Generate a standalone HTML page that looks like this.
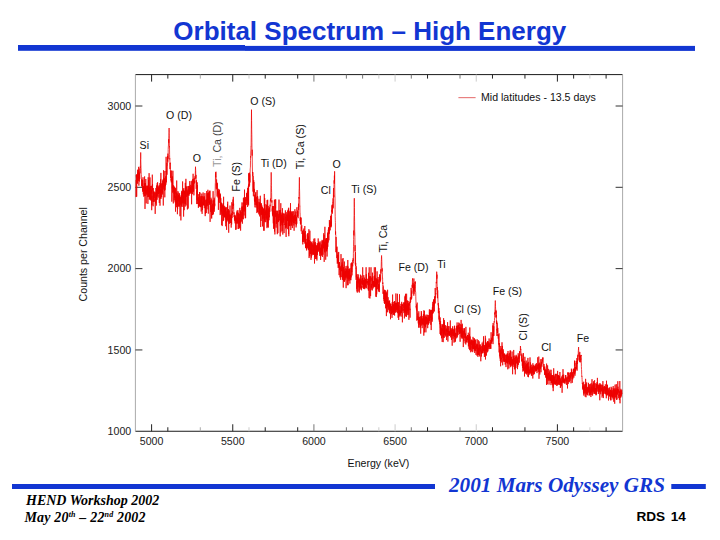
<!DOCTYPE html>
<html><head><meta charset="utf-8"><style>
html,body{margin:0;padding:0;background:#fff;}
body{width:720px;height:540px;overflow:hidden;position:relative;}
svg{position:absolute;left:0;top:0;}
</style></head><body>
<svg width="720" height="540" viewBox="0 0 720 540">
<rect width="720" height="540" fill="#fff"/>
<text x="369.8" y="39.5" text-anchor="middle" font-family="'Liberation Sans', sans-serif" font-weight="bold" font-size="26" fill="#1236D2">Orbital Spectrum – High Energy</text>
<rect x="18" y="45" width="227" height="5.8" fill="#1236D2"/><rect x="245" y="45.9" width="450" height="5" fill="#1236D2"/>
<rect x="12" y="484" width="423" height="5" fill="#1236D2"/>
<rect x="671.3" y="484" width="34.5" height="5" fill="#1236D2"/>
<text x="449" y="492" font-family="'Liberation Serif', serif" font-weight="bold" font-style="italic" font-size="21.2" fill="#1236D2">2001 Mars Odyssey GRS</text>
<g font-family="'Liberation Serif', serif" font-weight="bold" font-style="italic" font-size="14" fill="#000">
<text x="26" y="504.8">HEND Workshop 2002</text>
<text x="24.5" y="521.5" letter-spacing="0.17">May 20<tspan font-size="8" dy="-5">th</tspan><tspan dy="5"> – 22</tspan><tspan font-size="8" dy="-5">nd</tspan><tspan dy="5"> 2002</tspan></text>
</g>
<text x="685.8" y="521" text-anchor="end" font-family="'Liberation Sans', sans-serif" font-weight="bold" font-size="13.6" word-spacing="1.8" fill="#000">RDS 14</text>
<g id="chart">
<line x1="135.4" y1="74.6" x2="622.6" y2="74.6" stroke="#1a1a1a" stroke-width="1"/>
<line x1="135.4" y1="431.25" x2="622.6" y2="431.25" stroke="#1a1a1a" stroke-width="1"/>
<line x1="135.4" y1="74.6" x2="135.4" y2="431.25" stroke="#aaa" stroke-width="1"/>
<line x1="622.6" y1="74.6" x2="622.6" y2="431.25" stroke="#aaa" stroke-width="1"/>
<line x1="151.60" y1="431.25" x2="151.60" y2="424.25" stroke="#222" stroke-width="1"/><line x1="151.60" y1="74.6" x2="151.60" y2="81.6" stroke="#222" stroke-width="1"/><line x1="167.83" y1="431.25" x2="167.83" y2="427.25" stroke="#222" stroke-width="1"/><line x1="167.83" y1="74.6" x2="167.83" y2="78.6" stroke="#222" stroke-width="1"/><line x1="200.30" y1="431.25" x2="200.30" y2="427.25" stroke="#aaa" stroke-width="1"/><line x1="200.30" y1="74.6" x2="200.30" y2="78.6" stroke="#aaa" stroke-width="1"/><line x1="232.76" y1="431.25" x2="232.76" y2="424.25" stroke="#222" stroke-width="1"/><line x1="232.76" y1="74.6" x2="232.76" y2="81.6" stroke="#222" stroke-width="1"/><line x1="248.99" y1="431.25" x2="248.99" y2="427.25" stroke="#ccc" stroke-width="1"/><line x1="248.99" y1="74.6" x2="248.99" y2="78.6" stroke="#ccc" stroke-width="1"/><line x1="265.22" y1="431.25" x2="265.22" y2="427.25" stroke="#222" stroke-width="1"/><line x1="265.22" y1="74.6" x2="265.22" y2="78.6" stroke="#222" stroke-width="1"/><line x1="297.69" y1="431.25" x2="297.69" y2="427.25" stroke="#222" stroke-width="1"/><line x1="297.69" y1="74.6" x2="297.69" y2="78.6" stroke="#222" stroke-width="1"/><line x1="313.92" y1="431.25" x2="313.92" y2="424.25" stroke="#777" stroke-width="1"/><line x1="313.92" y1="74.6" x2="313.92" y2="81.6" stroke="#777" stroke-width="1"/><line x1="346.38" y1="431.25" x2="346.38" y2="427.25" stroke="#777" stroke-width="1"/><line x1="346.38" y1="74.6" x2="346.38" y2="78.6" stroke="#777" stroke-width="1"/><line x1="362.62" y1="431.25" x2="362.62" y2="427.25" stroke="#777" stroke-width="1"/><line x1="362.62" y1="74.6" x2="362.62" y2="78.6" stroke="#777" stroke-width="1"/><line x1="378.85" y1="431.25" x2="378.85" y2="427.25" stroke="#ccc" stroke-width="1"/><line x1="378.85" y1="74.6" x2="378.85" y2="78.6" stroke="#ccc" stroke-width="1"/><line x1="395.08" y1="431.25" x2="395.08" y2="424.25" stroke="#ccc" stroke-width="1"/><line x1="395.08" y1="74.6" x2="395.08" y2="81.6" stroke="#ccc" stroke-width="1"/><line x1="411.31" y1="431.25" x2="411.31" y2="427.25" stroke="#777" stroke-width="1"/><line x1="411.31" y1="74.6" x2="411.31" y2="78.6" stroke="#777" stroke-width="1"/><line x1="427.54" y1="431.25" x2="427.54" y2="427.25" stroke="#222" stroke-width="1"/><line x1="427.54" y1="74.6" x2="427.54" y2="78.6" stroke="#222" stroke-width="1"/><line x1="460.01" y1="431.25" x2="460.01" y2="427.25" stroke="#777" stroke-width="1"/><line x1="460.01" y1="74.6" x2="460.01" y2="78.6" stroke="#777" stroke-width="1"/><line x1="476.24" y1="431.25" x2="476.24" y2="424.25" stroke="#ccc" stroke-width="1"/><line x1="476.24" y1="74.6" x2="476.24" y2="81.6" stroke="#ccc" stroke-width="1"/><line x1="492.47" y1="431.25" x2="492.47" y2="427.25" stroke="#222" stroke-width="1"/><line x1="492.47" y1="74.6" x2="492.47" y2="78.6" stroke="#222" stroke-width="1"/><line x1="524.94" y1="431.25" x2="524.94" y2="427.25" stroke="#222" stroke-width="1"/><line x1="524.94" y1="74.6" x2="524.94" y2="78.6" stroke="#222" stroke-width="1"/><line x1="557.40" y1="431.25" x2="557.40" y2="424.25" stroke="#222" stroke-width="1"/><line x1="557.40" y1="74.6" x2="557.40" y2="81.6" stroke="#222" stroke-width="1"/><line x1="573.63" y1="431.25" x2="573.63" y2="427.25" stroke="#222" stroke-width="1"/><line x1="573.63" y1="74.6" x2="573.63" y2="78.6" stroke="#222" stroke-width="1"/><line x1="589.86" y1="431.25" x2="589.86" y2="427.25" stroke="#ccc" stroke-width="1"/><line x1="589.86" y1="74.6" x2="589.86" y2="78.6" stroke="#ccc" stroke-width="1"/><line x1="606.10" y1="431.25" x2="606.10" y2="427.25" stroke="#222" stroke-width="1"/><line x1="606.10" y1="74.6" x2="606.10" y2="78.6" stroke="#222" stroke-width="1"/><line x1="135.4" y1="349.94" x2="142.4" y2="349.94" stroke="#333" stroke-width="1"/><line x1="622.6" y1="349.94" x2="615.6" y2="349.94" stroke="#333" stroke-width="1"/><line x1="135.4" y1="268.62" x2="142.4" y2="268.62" stroke="#333" stroke-width="1"/><line x1="622.6" y1="268.62" x2="615.6" y2="268.62" stroke="#333" stroke-width="1"/><line x1="135.4" y1="187.31" x2="142.4" y2="187.31" stroke="#333" stroke-width="1"/><line x1="622.6" y1="187.31" x2="615.6" y2="187.31" stroke="#333" stroke-width="1"/><line x1="135.4" y1="106.00" x2="142.4" y2="106.00" stroke="#333" stroke-width="1"/><line x1="622.6" y1="106.00" x2="615.6" y2="106.00" stroke="#333" stroke-width="1"/>
<path d="M136.00,180.00 136.10,197.05 136.20,186.69 136.30,174.92 136.40,177.40 136.50,174.36 136.60,180.32 136.70,196.61 136.80,177.20 136.90,176.49 137.00,182.70 137.10,181.94 137.20,180.53 137.30,174.79 137.40,179.76 137.50,183.72 137.60,172.57 137.70,176.47 137.80,169.62 137.90,172.93 138.00,170.02 138.10,178.49 138.20,173.08 138.30,181.01 138.40,180.33 138.50,178.50 138.60,166.85 138.70,176.56 138.80,178.80 138.90,185.65 139.00,171.54 139.10,176.17 139.20,173.69 139.30,174.14 139.40,181.52 139.50,173.32 139.60,176.03 139.70,178.87 139.80,172.91 139.90,168.41 140.00,173.27 140.10,171.70 140.20,166.65 140.30,167.79 140.40,167.62 140.50,159.22 140.60,158.87 140.70,152.84 140.70,152.44 140.80,160.91 140.90,164.16 141.00,167.72 141.10,170.18 141.20,174.23 141.30,174.59 141.40,179.20 141.50,178.92 141.60,182.45 141.70,186.48 141.80,179.64 141.90,183.81 142.00,186.23 142.10,184.82 142.20,179.64 142.30,182.67 142.40,184.74 142.50,190.16 142.60,191.71 142.70,180.19 142.80,182.93 142.90,190.24 143.00,177.25 143.10,185.09 143.20,187.12 143.30,194.29 143.40,191.54 143.50,186.38 143.60,186.29 143.70,187.05 143.80,196.68 143.90,186.35 144.00,187.14 144.10,190.82 144.20,188.37 144.30,188.08 144.40,183.16 144.50,189.33 144.60,176.43 144.70,196.09 144.80,193.38 144.90,189.74 145.00,208.93 145.10,188.15 145.20,195.99 145.30,190.14 145.40,193.51 145.50,183.05 145.60,192.30 145.70,180.92 145.80,179.01 145.90,183.38 146.00,191.07 146.10,191.58 146.20,203.40 146.30,186.08 146.40,187.31 146.50,192.06 146.60,193.75 146.70,190.02 146.80,189.91 146.90,195.12 147.00,194.15 147.10,185.40 147.20,190.87 147.30,191.58 147.40,186.28 147.50,192.97 147.60,186.69 147.70,197.14 147.80,192.77 147.90,203.93 148.00,188.45 148.10,191.19 148.20,177.31 148.30,185.56 148.40,194.10 148.50,180.02 148.60,196.96 148.70,182.31 148.80,186.28 148.90,187.54 149.00,196.82 149.10,173.17 149.20,183.80 149.30,199.67 149.40,198.41 149.50,192.33 149.60,191.21 149.70,191.91 149.80,187.35 149.90,199.17 150.00,177.43 150.10,192.75 150.20,188.58 150.30,189.57 150.40,185.92 150.50,200.33 150.60,192.37 150.70,198.76 150.80,193.40 150.90,189.42 151.00,191.55 151.10,190.27 151.20,193.53 151.30,191.39 151.40,191.86 151.50,185.79 151.60,189.07 151.70,210.20 151.80,189.92 151.90,205.23 152.00,195.71 152.10,201.81 152.20,185.65 152.30,174.67 152.40,190.38 152.50,184.03 152.60,184.64 152.70,193.95 152.80,194.52 152.90,194.48 153.00,196.77 153.10,206.27 153.20,193.47 153.30,188.05 153.40,192.02 153.50,201.95 153.60,191.57 153.70,196.13 153.80,194.33 153.90,192.07 154.00,191.73 154.10,198.20 154.20,192.97 154.30,198.61 154.40,201.69 154.50,201.45 154.60,198.69 154.70,197.04 154.80,191.74 154.90,194.74 155.00,200.36 155.10,200.46 155.20,213.90 155.30,206.07 155.40,199.42 155.50,199.70 155.60,200.21 155.70,192.43 155.80,203.56 155.90,187.96 156.00,199.87 156.10,197.79 156.20,199.94 156.30,205.62 156.40,203.39 156.50,188.53 156.60,185.46 156.70,199.62 156.80,189.27 156.90,194.93 157.00,199.74 157.10,185.71 157.20,183.08 157.30,196.46 157.40,195.25 157.50,193.61 157.60,182.23 157.70,190.14 157.80,186.45 157.90,194.06 158.00,189.51 158.10,185.59 158.20,197.61 158.30,194.28 158.40,192.51 158.50,188.78 158.60,193.98 158.70,188.47 158.80,188.98 158.90,186.83 159.00,189.32 159.10,195.64 159.20,195.42 159.30,202.96 159.40,185.36 159.50,193.25 159.60,192.49 159.70,192.80 159.80,184.52 159.90,183.10 160.00,205.70 160.10,188.54 160.20,192.71 160.30,190.47 160.40,198.56 160.50,191.75 160.60,179.25 160.70,187.69 160.80,180.31 160.90,172.89 161.00,188.24 161.10,198.71 161.20,191.27 161.30,184.20 161.40,185.40 161.50,197.06 161.60,191.40 161.70,190.65 161.80,189.95 161.90,190.34 162.00,183.17 162.10,192.85 162.20,183.52 162.30,183.16 162.40,191.71 162.50,184.60 162.60,194.44 162.70,180.65 162.80,186.81 162.90,187.26 163.00,179.44 163.10,196.53 163.20,196.25 163.30,205.52 163.40,190.21 163.50,187.66 163.60,170.27 163.70,186.33 163.80,184.25 163.90,188.81 164.00,177.85 164.10,182.16 164.20,182.38 164.30,189.86 164.40,184.70 164.50,182.46 164.60,190.87 164.70,178.74 164.80,197.34 164.90,171.01 165.00,189.84 165.10,185.92 165.20,185.13 165.30,183.23 165.40,186.21 165.50,179.66 165.60,176.54 165.70,176.31 165.80,177.23 165.90,184.74 166.00,178.94 166.10,156.81 166.20,171.70 166.30,170.89 166.40,182.37 166.50,180.98 166.60,173.04 166.70,170.31 166.80,165.81 166.90,162.82 167.00,174.75 167.10,167.05 167.20,166.54 167.30,165.20 167.40,165.36 167.50,155.96 167.60,160.77 167.70,156.47 167.80,162.38 167.90,153.62 168.00,157.25 168.10,158.76 168.20,149.62 168.30,146.33 168.40,146.41 168.50,142.92 168.60,139.24 168.70,141.60 168.80,142.76 168.90,135.71 169.00,132.72 169.10,128.05 169.10,129.29 169.20,133.34 169.30,138.27 169.40,147.22 169.50,146.38 169.60,154.77 169.70,159.34 169.80,158.41 169.90,161.86 170.00,169.12 170.10,163.59 170.20,164.02 170.30,162.71 170.40,170.15 170.50,178.05 170.60,177.50 170.70,170.48 170.80,172.27 170.90,175.28 171.00,180.46 171.10,178.71 171.20,181.40 171.30,182.44 171.40,180.03 171.50,181.91 171.60,170.64 171.70,172.48 171.80,201.65 171.90,194.22 172.00,188.00 172.10,185.67 172.20,176.82 172.30,188.51 172.40,176.36 172.50,179.76 172.60,192.62 172.70,192.33 172.80,188.14 172.90,170.74 173.00,187.93 173.10,186.53 173.20,194.11 173.30,203.42 173.40,192.39 173.50,187.15 173.60,185.27 173.70,191.78 173.80,191.41 173.90,186.26 174.00,193.65 174.10,186.86 174.20,199.82 174.30,199.85 174.40,200.27 174.50,191.84 174.60,197.68 174.70,194.36 174.80,187.29 174.90,193.80 175.00,188.72 175.10,202.32 175.20,201.05 175.30,195.83 175.40,198.41 175.50,211.65 175.60,188.10 175.70,193.71 175.80,199.38 175.90,200.89 176.00,196.89 176.10,204.83 176.20,200.33 176.30,192.44 176.40,194.10 176.50,203.88 176.60,202.04 176.70,180.52 176.80,207.13 176.90,203.02 177.00,207.26 177.10,197.68 177.20,198.05 177.30,193.68 177.40,214.23 177.50,199.14 177.60,209.07 177.70,196.66 177.80,201.27 177.90,191.09 178.00,193.61 178.10,206.07 178.20,192.51 178.30,206.71 178.40,202.68 178.50,195.05 178.60,198.15 178.70,198.46 178.80,200.82 178.90,198.18 179.00,196.64 179.10,199.63 179.20,195.67 179.30,194.29 179.40,201.28 179.50,206.55 179.60,193.18 179.70,201.79 179.80,198.23 179.90,196.48 180.00,216.22 180.10,199.05 180.20,204.80 180.30,197.47 180.40,203.91 180.50,200.43 180.60,197.44 180.70,202.30 180.80,200.66 180.90,220.42 181.00,201.14 181.10,195.28 181.20,200.71 181.30,201.51 181.40,206.51 181.50,196.04 181.60,200.82 181.70,191.37 181.80,204.56 181.90,194.82 182.00,190.71 182.10,200.41 182.20,206.86 182.30,192.10 182.40,194.48 182.50,196.35 182.60,181.44 182.70,202.50 182.80,195.81 182.90,196.23 183.00,203.46 183.10,195.92 183.20,202.50 183.30,194.59 183.40,190.02 183.50,189.63 183.60,216.58 183.70,197.99 183.80,188.08 183.90,199.49 184.00,200.50 184.10,199.82 184.20,210.16 184.30,193.60 184.40,190.64 184.50,193.63 184.60,191.76 184.70,203.36 184.80,203.72 184.90,193.67 185.00,191.21 185.10,196.89 185.20,206.56 185.30,182.83 185.40,201.47 185.50,192.36 185.60,204.12 185.70,186.02 185.80,196.44 185.90,178.83 186.00,192.31 186.10,205.47 186.20,202.17 186.30,195.18 186.40,192.43 186.50,186.55 186.60,194.87 186.70,196.79 186.80,196.37 186.90,196.19 187.00,190.29 187.10,196.11 187.20,196.14 187.30,203.51 187.40,209.43 187.50,195.23 187.60,191.56 187.70,195.39 187.80,186.18 187.90,191.34 188.00,195.07 188.10,189.40 188.20,208.55 188.30,207.08 188.40,196.33 188.50,193.77 188.60,192.14 188.70,185.94 188.80,193.10 188.90,195.21 189.00,195.52 189.10,195.74 189.20,186.28 189.30,194.22 189.40,186.15 189.50,190.13 189.60,191.82 189.70,181.68 189.80,180.98 189.90,193.97 190.00,192.11 190.10,190.41 190.20,190.50 190.30,186.91 190.40,190.68 190.50,188.90 190.60,192.31 190.70,184.85 190.80,192.71 190.90,192.00 191.00,190.21 191.10,188.35 191.20,193.67 191.30,181.14 191.40,192.74 191.50,191.33 191.60,204.28 191.70,191.69 191.80,185.79 191.90,187.76 192.00,192.45 192.10,191.11 192.20,189.68 192.30,180.20 192.40,191.03 192.50,194.16 192.60,193.07 192.70,188.73 192.80,179.15 192.90,191.94 193.00,186.07 193.10,173.77 193.20,188.33 193.30,178.82 193.40,179.66 193.50,182.71 193.60,191.58 193.70,183.54 193.80,186.23 193.90,195.34 194.00,191.30 194.10,183.55 194.20,182.58 194.30,178.12 194.40,179.95 194.50,183.55 194.60,182.69 194.70,180.90 194.80,182.66 194.90,176.42 195.00,177.21 195.10,177.56 195.20,178.81 195.30,173.93 195.40,170.32 195.50,166.73 195.50,167.31 195.60,169.20 195.70,170.83 195.80,177.26 195.90,178.34 196.00,174.87 196.10,177.71 196.20,188.88 196.30,183.73 196.40,184.13 196.50,180.30 196.60,188.38 196.70,204.06 196.80,193.43 196.90,190.44 197.00,199.97 197.10,197.64 197.20,182.30 197.30,194.42 197.40,185.06 197.50,198.81 197.60,204.02 197.70,201.63 197.80,197.90 197.90,198.10 198.00,200.79 198.10,194.32 198.20,197.08 198.30,202.18 198.40,207.88 198.50,197.10 198.60,197.89 198.70,199.40 198.80,205.69 198.90,198.61 199.00,206.83 199.10,193.99 199.20,198.38 199.30,199.89 199.40,204.04 199.50,205.99 199.60,191.99 199.70,195.41 199.80,202.43 199.90,197.20 200.00,192.67 200.10,206.71 200.20,203.75 200.30,203.77 200.40,201.87 200.50,206.76 200.60,199.80 200.70,207.19 200.80,196.12 200.90,196.46 201.00,200.72 201.10,197.33 201.20,211.51 201.30,202.70 201.40,196.16 201.50,201.70 201.60,199.37 201.70,206.42 201.80,193.64 201.90,202.51 202.00,208.13 202.10,213.86 202.20,205.82 202.30,201.81 202.40,202.70 202.50,210.03 202.60,200.83 202.70,196.11 202.80,202.21 202.90,204.09 203.00,196.99 203.10,192.46 203.20,193.64 203.30,205.36 203.40,197.46 203.50,200.91 203.60,202.90 203.70,205.19 203.80,199.90 203.90,204.56 204.00,196.84 204.10,201.91 204.20,196.14 204.30,208.16 204.40,201.73 204.50,197.78 204.60,199.96 204.70,200.71 204.80,205.86 204.90,193.09 205.00,196.22 205.10,199.91 205.20,216.14 205.30,207.38 205.40,213.63 205.50,206.06 205.60,213.58 205.70,200.84 205.80,200.12 205.90,208.93 206.00,204.95 206.10,205.96 206.20,199.41 206.30,212.97 206.40,211.79 206.50,205.45 206.60,206.13 206.70,191.06 206.80,205.91 206.90,201.30 207.00,204.81 207.10,206.22 207.20,200.54 207.30,193.06 207.40,204.53 207.50,193.86 207.60,200.68 207.70,199.18 207.80,200.66 207.90,189.75 208.00,209.36 208.10,204.03 208.20,208.81 208.30,213.65 208.40,211.25 208.50,192.70 208.60,197.76 208.70,196.05 208.80,199.98 208.90,203.22 209.00,191.71 209.10,204.72 209.20,194.48 209.30,204.51 209.40,202.27 209.50,201.17 209.60,202.52 209.70,191.05 209.80,199.58 209.90,190.53 210.00,201.18 210.10,221.88 210.20,214.22 210.30,210.76 210.40,207.54 210.50,200.13 210.60,211.89 210.70,203.86 210.80,203.95 210.90,202.91 211.00,197.72 211.10,202.47 211.20,204.54 211.30,199.31 211.40,203.31 211.50,217.71 211.60,205.28 211.70,218.57 211.80,208.80 211.90,209.88 212.00,200.43 212.10,205.37 212.20,211.40 212.30,208.17 212.40,207.55 212.50,215.04 212.60,203.77 212.70,207.78 212.80,204.89 212.90,215.04 213.00,198.16 213.10,191.16 213.20,205.11 213.30,210.74 213.40,210.35 213.50,213.85 213.60,200.14 213.70,209.85 213.80,205.70 213.90,203.93 214.00,208.77 214.10,202.51 214.20,197.74 214.30,211.69 214.40,199.51 214.50,202.10 214.60,204.84 214.70,203.71 214.80,206.29 214.90,199.91 215.00,195.23 215.10,193.19 215.20,188.63 215.30,183.55 215.40,182.50 215.50,173.45 215.50,172.33 215.60,176.30 215.70,176.08 215.80,177.25 215.90,172.48 216.00,171.72 216.10,178.05 216.20,189.31 216.30,182.62 216.40,183.97 216.50,185.33 216.60,179.45 216.70,185.31 216.80,185.83 216.90,188.61 217.00,182.66 217.10,196.50 217.20,190.45 217.30,185.06 217.40,183.27 217.50,190.57 217.60,192.07 217.70,189.57 217.80,194.11 217.90,191.00 218.00,197.55 218.10,191.51 218.20,195.44 218.30,188.84 218.40,209.87 218.50,191.63 218.60,194.88 218.70,193.29 218.80,202.31 218.90,192.44 219.00,196.37 219.10,199.21 219.20,194.51 219.30,195.02 219.40,198.01 219.50,189.62 219.60,193.55 219.70,199.55 219.80,203.00 219.90,201.58 220.00,193.33 220.10,200.66 220.20,215.09 220.30,206.63 220.40,203.37 220.50,194.32 220.60,207.66 220.70,201.22 220.80,198.19 220.90,200.40 221.00,213.77 221.10,206.41 221.20,211.76 221.30,202.97 221.40,210.95 221.50,202.70 221.60,205.33 221.70,225.08 221.80,210.81 221.90,204.05 222.00,206.53 222.10,208.99 222.20,226.07 222.30,204.91 222.40,208.49 222.50,206.47 222.60,208.28 222.70,209.00 222.80,215.82 222.90,210.54 223.00,213.46 223.10,203.17 223.20,214.15 223.30,221.08 223.40,214.03 223.50,211.39 223.60,196.75 223.70,220.18 223.80,205.53 223.90,210.19 224.00,213.51 224.10,215.26 224.20,209.01 224.30,213.28 224.40,210.28 224.50,217.11 224.60,211.48 224.70,206.18 224.80,212.49 224.90,217.57 225.00,207.74 225.10,211.79 225.20,216.81 225.30,207.48 225.40,214.39 225.50,207.74 225.60,219.76 225.70,226.26 225.80,224.77 225.90,212.71 226.00,219.52 226.10,214.76 226.20,214.57 226.30,222.68 226.40,207.26 226.50,220.21 226.60,229.86 226.70,222.32 226.80,215.81 226.90,211.27 227.00,216.50 227.10,219.07 227.20,215.39 227.30,217.93 227.40,212.59 227.50,204.02 227.60,220.44 227.70,201.70 227.80,216.59 227.90,216.27 228.00,221.55 228.10,217.99 228.20,214.68 228.30,215.29 228.40,215.54 228.50,209.12 228.60,222.93 228.70,232.70 228.80,210.97 228.90,223.55 229.00,216.48 229.10,210.25 229.20,215.31 229.30,222.16 229.40,223.60 229.50,215.26 229.60,219.68 229.70,221.36 229.80,214.45 229.90,219.68 230.00,205.58 230.10,215.19 230.20,215.38 230.30,218.15 230.40,219.02 230.50,214.92 230.60,215.57 230.70,223.01 230.80,218.56 230.90,221.68 231.00,223.04 231.10,221.55 231.20,227.61 231.30,213.32 231.40,220.52 231.50,215.38 231.60,224.53 231.70,223.49 231.80,202.26 231.90,212.00 232.00,218.06 232.10,218.04 232.20,217.27 232.30,213.85 232.40,214.90 232.50,214.63 232.60,211.49 232.70,213.28 232.80,203.90 232.90,209.01 233.00,199.57 233.10,205.11 233.20,200.83 233.30,197.28 233.30,196.85 233.40,202.34 233.50,205.92 233.60,203.66 233.70,208.46 233.80,211.37 233.90,214.29 234.00,212.42 234.10,217.03 234.20,214.79 234.30,215.16 234.40,218.16 234.50,220.60 234.60,215.87 234.70,216.64 234.80,217.33 234.90,218.66 235.00,214.78 235.10,223.36 235.20,217.36 235.30,221.45 235.40,215.80 235.50,221.43 235.60,221.79 235.70,218.13 235.80,229.98 235.90,222.25 236.00,229.27 236.10,225.47 236.20,217.62 236.30,219.14 236.40,223.36 236.50,221.63 236.60,221.70 236.70,220.13 236.80,212.50 236.90,220.69 237.00,210.59 237.10,223.77 237.20,217.98 237.30,217.90 237.40,220.35 237.50,222.79 237.60,213.76 237.70,211.96 237.80,215.40 237.90,210.14 238.00,215.66 238.10,229.01 238.20,214.92 238.30,223.82 238.40,212.98 238.50,221.71 238.60,218.30 238.70,219.56 238.80,222.78 238.90,228.98 239.00,220.54 239.10,227.33 239.20,214.05 239.30,222.24 239.40,217.68 239.50,223.33 239.60,218.52 239.70,227.95 239.80,207.87 239.90,216.78 240.00,222.98 240.10,216.24 240.20,213.74 240.30,216.45 240.40,210.33 240.50,218.27 240.60,230.64 240.70,223.54 240.80,211.28 240.90,212.42 241.00,214.82 241.10,222.17 241.20,212.07 241.30,212.52 241.40,220.78 241.50,220.43 241.60,213.48 241.70,209.20 241.80,206.60 241.90,210.96 242.00,202.40 242.10,218.32 242.20,210.58 242.30,216.37 242.40,223.66 242.50,219.63 242.60,206.74 242.70,217.48 242.80,218.81 242.90,211.72 243.00,206.80 243.10,211.15 243.20,202.76 243.30,219.28 243.40,197.86 243.50,204.70 243.60,209.03 243.70,209.01 243.80,210.91 243.90,211.24 244.00,208.33 244.10,215.48 244.20,197.28 244.30,208.75 244.40,204.58 244.50,189.60 244.60,209.21 244.70,202.74 244.80,203.98 244.90,211.60 245.00,208.92 245.10,202.79 245.20,217.28 245.30,218.31 245.40,197.08 245.50,206.33 245.60,218.03 245.70,208.05 245.80,204.48 245.90,201.65 246.00,199.34 246.10,200.69 246.20,198.36 246.30,205.04 246.40,198.26 246.50,197.56 246.60,192.89 246.70,198.78 246.80,193.66 246.90,200.43 247.00,203.39 247.10,199.20 247.20,199.49 247.30,198.20 247.40,191.28 247.50,194.60 247.60,206.98 247.70,198.49 247.80,187.97 247.90,200.67 248.00,193.09 248.10,187.95 248.20,203.97 248.30,186.51 248.40,190.07 248.50,184.46 248.60,205.35 248.70,182.26 248.80,173.51 248.90,180.64 249.00,173.08 249.10,182.23 249.20,186.78 249.30,183.60 249.40,172.63 249.50,182.21 249.60,185.52 249.70,177.24 249.80,174.46 249.90,177.87 250.00,182.50 250.10,175.73 250.20,169.09 250.30,168.17 250.40,167.17 250.50,160.27 250.60,156.32 250.70,157.43 250.80,151.08 250.90,150.16 251.00,146.30 251.10,146.54 251.20,137.20 251.30,128.25 251.40,120.23 251.50,109.66 251.50,111.94 251.60,120.67 251.70,129.35 251.80,134.56 251.90,142.39 252.00,151.78 252.10,155.66 252.20,149.73 252.30,162.96 252.40,167.99 252.50,173.08 252.60,172.02 252.70,176.14 252.80,172.31 252.90,177.39 253.00,191.61 253.10,176.05 253.20,185.30 253.30,188.84 253.40,196.29 253.50,185.77 253.60,190.16 253.70,180.13 253.80,191.60 253.90,181.94 254.00,192.70 254.10,189.78 254.20,192.00 254.30,188.87 254.40,199.47 254.50,201.47 254.60,194.80 254.70,202.93 254.80,204.89 254.90,205.34 255.00,207.33 255.10,199.33 255.20,199.36 255.30,204.93 255.40,193.30 255.50,202.00 255.60,198.17 255.70,199.23 255.80,191.94 255.90,196.75 256.00,201.67 256.10,206.83 256.20,207.57 256.30,201.89 256.40,197.13 256.50,204.08 256.60,205.09 256.70,201.70 256.80,206.57 256.90,213.05 257.00,203.42 257.10,190.10 257.20,199.22 257.30,196.11 257.40,197.72 257.50,211.69 257.60,205.93 257.70,196.48 257.80,208.64 257.90,212.17 258.00,206.73 258.10,201.85 258.20,203.90 258.30,207.51 258.40,209.65 258.50,212.81 258.60,213.16 258.70,213.19 258.80,214.34 258.90,210.66 259.00,198.78 259.10,206.66 259.20,209.29 259.30,205.63 259.40,212.93 259.50,206.12 259.60,203.19 259.70,216.39 259.80,201.99 259.90,210.02 260.00,214.08 260.10,214.91 260.20,211.03 260.30,195.76 260.40,205.61 260.50,206.90 260.60,204.08 260.70,227.01 260.80,216.17 260.90,207.06 261.00,203.58 261.10,220.99 261.20,207.49 261.30,203.29 261.40,211.42 261.50,212.53 261.60,206.42 261.70,214.69 261.80,207.77 261.90,205.47 262.00,211.58 262.10,214.90 262.20,207.29 262.30,212.65 262.40,210.41 262.50,226.43 262.60,207.21 262.70,218.72 262.80,210.95 262.90,210.63 263.00,215.34 263.10,216.36 263.20,218.47 263.30,213.43 263.40,208.45 263.50,208.87 263.60,214.66 263.70,208.85 263.80,230.56 263.90,214.40 264.00,230.71 264.10,220.53 264.20,213.26 264.30,193.96 264.40,206.11 264.50,204.79 264.60,221.32 264.70,198.08 264.80,219.52 264.90,214.66 265.00,222.29 265.10,218.47 265.20,212.53 265.30,212.04 265.40,213.62 265.50,214.15 265.60,210.37 265.70,213.10 265.80,221.99 265.90,204.19 266.00,214.79 266.10,208.56 266.20,214.48 266.30,218.02 266.40,213.24 266.50,217.72 266.60,205.14 266.70,219.57 266.80,210.50 266.90,217.05 267.00,228.12 267.10,200.15 267.20,205.49 267.30,215.04 267.40,226.88 267.50,215.45 267.60,215.32 267.70,199.79 267.80,221.42 267.90,223.34 268.00,214.22 268.10,212.97 268.20,205.92 268.30,218.53 268.40,227.56 268.50,217.63 268.60,220.25 268.70,216.65 268.80,209.24 268.90,220.25 269.00,208.02 269.10,212.72 269.20,214.81 269.30,217.31 269.40,214.95 269.50,214.50 269.60,209.28 269.70,206.76 269.80,211.78 269.90,208.15 270.00,205.25 270.10,204.69 270.20,206.45 270.30,200.78 270.40,201.06 270.50,198.58 270.60,201.37 270.70,199.03 270.80,198.91 270.90,187.82 271.00,184.60 271.10,182.32 271.20,172.42 271.20,172.33 271.30,181.86 271.40,185.39 271.50,188.85 271.60,192.41 271.70,199.53 271.80,202.49 271.90,200.27 272.00,203.24 272.10,209.72 272.20,211.42 272.30,208.39 272.40,214.04 272.50,214.80 272.60,206.26 272.70,212.70 272.80,216.25 272.90,212.51 273.00,206.00 273.10,214.39 273.20,219.30 273.30,223.37 273.40,206.05 273.50,228.76 273.60,211.15 273.70,221.26 273.80,222.75 273.90,221.64 274.00,217.62 274.10,211.14 274.20,220.13 274.30,213.42 274.40,199.81 274.50,231.54 274.60,220.77 274.70,226.53 274.80,212.48 274.90,234.41 275.00,225.51 275.10,199.52 275.20,217.17 275.30,211.00 275.40,216.39 275.50,205.74 275.60,208.37 275.70,199.40 275.80,212.14 275.90,216.53 276.00,216.84 276.10,227.70 276.20,224.36 276.30,217.23 276.40,223.93 276.50,213.33 276.60,215.71 276.70,222.39 276.80,210.90 276.90,216.06 277.00,210.50 277.10,218.21 277.20,226.35 277.30,234.20 277.40,218.84 277.50,212.83 277.60,211.48 277.70,211.03 277.80,225.50 277.90,233.07 278.00,220.31 278.10,213.88 278.20,221.53 278.30,215.96 278.40,222.08 278.50,219.35 278.60,219.30 278.70,221.08 278.80,214.71 278.90,215.67 279.00,199.59 279.10,215.49 279.20,210.23 279.30,217.12 279.40,212.76 279.50,218.47 279.60,220.38 279.70,210.31 279.80,213.59 279.90,212.91 280.00,222.02 280.10,227.21 280.20,236.35 280.30,216.18 280.40,225.97 280.50,209.95 280.60,226.19 280.70,214.61 280.80,203.19 280.90,232.45 281.00,226.70 281.10,212.66 281.20,219.15 281.30,217.11 281.40,218.83 281.50,222.60 281.60,214.65 281.70,220.86 281.80,219.56 281.90,224.84 282.00,218.83 282.10,231.06 282.20,214.59 282.30,219.86 282.40,208.17 282.50,211.76 282.60,225.67 282.70,213.47 282.80,234.55 282.90,218.25 283.00,212.98 283.10,212.91 283.20,215.87 283.30,216.04 283.40,222.73 283.50,222.21 283.60,215.61 283.70,213.86 283.80,220.28 283.90,218.24 284.00,231.92 284.10,233.10 284.20,223.37 284.30,225.00 284.40,217.95 284.50,214.29 284.60,214.04 284.70,213.54 284.80,216.83 284.90,216.68 285.00,223.00 285.10,216.83 285.20,217.88 285.30,212.36 285.40,210.37 285.50,221.58 285.60,228.45 285.70,223.09 285.80,226.78 285.90,217.41 286.00,222.57 286.10,236.98 286.20,212.07 286.30,224.96 286.40,227.74 286.50,220.84 286.60,222.66 286.70,225.40 286.80,214.88 286.90,220.70 287.00,213.65 287.10,214.68 287.20,214.97 287.30,217.56 287.40,219.12 287.50,220.78 287.60,210.44 287.70,229.14 287.80,224.57 287.90,222.18 288.00,216.17 288.10,217.62 288.20,219.86 288.30,220.33 288.40,208.76 288.50,222.09 288.60,234.07 288.70,207.74 288.80,236.23 288.90,219.93 289.00,217.24 289.10,225.41 289.20,211.26 289.30,218.67 289.40,225.84 289.50,216.63 289.60,215.37 289.70,218.29 289.80,215.17 289.90,226.17 290.00,212.55 290.10,222.38 290.20,210.58 290.30,221.19 290.40,216.88 290.50,203.11 290.60,217.37 290.70,211.46 290.80,230.00 290.90,225.84 291.00,211.09 291.10,211.38 291.20,225.21 291.30,217.84 291.40,225.72 291.50,218.94 291.60,212.22 291.70,216.72 291.80,223.87 291.90,215.96 292.00,217.00 292.10,217.37 292.20,216.58 292.30,214.10 292.40,228.09 292.50,211.69 292.60,211.35 292.70,215.06 292.80,221.81 292.90,221.44 293.00,217.24 293.10,217.27 293.20,218.33 293.30,217.00 293.40,211.24 293.50,222.89 293.60,215.97 293.70,220.76 293.80,225.48 293.90,222.46 294.00,219.11 294.10,230.74 294.20,219.15 294.30,217.36 294.40,223.39 294.50,221.71 294.60,214.94 294.70,220.09 294.80,218.90 294.90,209.26 295.00,219.06 295.10,218.56 295.20,217.83 295.30,211.46 295.40,218.48 295.50,220.26 295.60,221.10 295.70,214.64 295.80,224.08 295.90,214.45 296.00,219.75 296.10,227.43 296.20,216.76 296.30,217.43 296.40,225.27 296.50,217.51 296.60,217.66 296.70,219.96 296.80,223.76 296.90,207.29 297.00,213.78 297.10,212.59 297.20,211.90 297.30,212.64 297.40,212.34 297.50,216.74 297.60,211.26 297.70,215.23 297.80,215.80 297.90,210.32 298.00,213.14 298.10,218.20 298.20,211.96 298.30,207.25 298.40,208.04 298.50,203.69 298.60,210.06 298.70,205.40 298.80,198.22 298.90,197.04 299.00,198.71 299.10,190.46 299.20,188.18 299.30,182.25 299.40,177.32 299.40,177.58 299.50,188.04 299.60,191.27 299.70,196.44 299.80,206.23 299.90,205.90 300.00,213.21 300.10,213.11 300.20,221.06 300.30,217.59 300.40,223.51 300.50,221.19 300.60,223.80 300.70,217.39 300.80,223.45 300.90,224.67 301.00,224.88 301.10,217.73 301.20,231.28 301.30,226.59 301.40,227.04 301.50,228.50 301.60,229.25 301.70,225.13 301.80,225.62 301.90,227.74 302.00,234.02 302.10,233.90 302.20,231.96 302.30,231.54 302.40,230.80 302.50,235.08 302.60,241.64 302.70,231.23 302.80,244.40 302.90,241.59 303.00,235.71 303.10,241.98 303.20,230.96 303.30,229.77 303.40,232.10 303.50,236.64 303.60,237.21 303.70,236.40 303.80,239.63 303.90,228.51 304.00,241.92 304.10,232.39 304.20,236.37 304.30,237.76 304.40,234.14 304.50,233.19 304.60,235.18 304.70,240.37 304.80,226.00 304.90,243.58 305.00,235.80 305.10,236.97 305.20,236.46 305.30,243.57 305.40,231.06 305.50,247.87 305.60,239.25 305.70,247.01 305.80,243.73 305.90,247.40 306.00,244.03 306.10,247.79 306.20,243.26 306.30,248.97 306.40,249.19 306.50,242.49 306.60,250.46 306.70,244.12 306.80,243.87 306.90,238.89 307.00,242.25 307.10,245.06 307.20,234.43 307.30,247.44 307.40,246.06 307.50,245.84 307.60,233.37 307.70,244.19 307.80,248.15 307.90,241.13 308.00,245.60 308.10,233.23 308.20,248.83 308.30,242.22 308.40,250.13 308.50,236.53 308.60,249.50 308.70,244.94 308.80,248.08 308.90,229.23 309.00,243.44 309.10,258.05 309.20,242.66 309.30,240.10 309.40,245.75 309.50,242.12 309.60,253.44 309.70,256.27 309.80,244.16 309.90,230.71 310.00,253.91 310.10,253.63 310.20,252.22 310.30,253.95 310.40,243.79 310.50,247.35 310.60,241.27 310.70,241.14 310.80,253.26 310.90,244.98 311.00,259.88 311.10,248.81 311.20,241.80 311.30,252.54 311.40,257.63 311.50,242.52 311.60,242.51 311.70,250.55 311.80,255.64 311.90,246.28 312.00,244.91 312.10,253.95 312.20,249.58 312.30,243.37 312.40,247.05 312.50,245.20 312.60,250.53 312.70,249.63 312.80,254.90 312.90,252.73 313.00,241.34 313.10,251.29 313.20,253.79 313.30,251.61 313.40,254.54 313.50,246.64 313.60,244.66 313.70,254.15 313.80,244.17 313.90,238.71 314.00,254.75 314.10,246.00 314.20,248.14 314.30,242.70 314.40,243.11 314.50,263.54 314.60,248.03 314.70,257.01 314.80,238.39 314.90,253.73 315.00,244.07 315.10,244.61 315.20,253.32 315.30,249.51 315.40,242.13 315.50,259.06 315.60,245.44 315.70,250.96 315.80,250.68 315.90,256.73 316.00,247.31 316.10,254.62 316.20,245.79 316.30,255.12 316.40,245.61 316.50,247.58 316.60,258.89 316.70,250.91 316.80,249.83 316.90,260.51 317.00,251.02 317.10,245.06 317.20,252.81 317.30,243.14 317.40,254.71 317.50,255.07 317.60,246.08 317.70,245.76 317.80,249.77 317.90,248.91 318.00,243.88 318.10,251.62 318.20,238.44 318.30,246.50 318.40,246.61 318.50,245.71 318.60,250.11 318.70,242.34 318.80,251.44 318.90,247.53 319.00,245.13 319.10,241.48 319.20,242.36 319.30,250.10 319.40,243.38 319.50,248.52 319.60,253.51 319.70,253.32 319.80,255.94 319.90,246.55 320.00,242.53 320.10,253.07 320.20,251.76 320.30,253.43 320.40,247.74 320.50,253.63 320.60,260.00 320.70,251.06 320.80,249.90 320.90,249.29 321.00,241.24 321.10,248.26 321.20,252.04 321.30,244.37 321.40,255.65 321.50,246.26 321.60,251.70 321.70,246.18 321.80,245.31 321.90,255.06 322.00,244.83 322.10,239.86 322.20,242.63 322.30,244.55 322.40,256.99 322.50,247.05 322.60,250.65 322.70,240.77 322.80,247.55 322.90,249.08 323.00,254.73 323.10,241.99 323.20,248.50 323.30,246.89 323.40,240.10 323.50,245.10 323.60,243.78 323.70,233.24 323.80,248.00 323.90,247.62 324.00,242.57 324.10,234.92 324.20,261.91 324.30,245.91 324.40,249.65 324.50,251.57 324.60,241.67 324.70,249.81 324.80,242.93 324.90,226.79 325.00,252.55 325.10,243.76 325.20,249.20 325.30,243.93 325.40,242.28 325.50,241.42 325.60,244.34 325.70,259.72 325.80,239.57 325.90,241.63 326.00,238.77 326.10,240.83 326.20,238.08 326.30,251.22 326.40,238.18 326.50,242.81 326.60,239.99 326.70,251.27 326.80,241.46 326.90,239.12 327.00,240.89 327.10,256.56 327.20,246.11 327.30,238.54 327.40,249.19 327.50,233.63 327.60,241.50 327.70,232.54 327.80,246.82 327.90,235.53 328.00,236.70 328.10,241.26 328.20,242.48 328.30,229.76 328.40,233.21 328.50,227.29 328.60,234.71 328.70,232.99 328.80,231.19 328.90,240.27 329.00,230.00 329.10,227.63 329.20,233.74 329.30,233.04 329.40,219.97 329.50,228.89 329.60,226.82 329.70,231.05 329.80,223.05 329.90,226.73 330.00,221.60 330.10,230.10 330.20,226.50 330.30,224.65 330.40,226.89 330.50,223.20 330.60,215.96 330.70,224.36 330.80,224.44 330.90,221.66 331.00,226.98 331.10,227.30 331.20,214.65 331.30,215.38 331.40,226.31 331.50,224.76 331.60,213.01 331.70,209.93 331.80,211.77 331.90,211.58 332.00,205.35 332.10,212.36 332.20,205.08 332.30,204.52 332.40,213.67 332.50,205.13 332.60,206.96 332.70,209.08 332.80,208.74 332.90,202.46 333.00,202.90 333.10,198.29 333.20,207.83 333.30,202.12 333.40,194.05 333.50,188.03 333.60,197.69 333.70,194.92 333.80,196.95 333.90,192.77 334.00,184.43 334.10,180.37 334.20,181.93 334.30,183.62 334.40,175.58 334.50,181.52 334.60,173.08 334.60,171.30 334.70,181.69 334.80,190.97 334.90,195.89 335.00,198.28 335.10,209.73 335.20,216.76 335.30,220.28 335.40,222.59 335.50,234.51 335.60,231.44 335.70,235.13 335.80,235.45 335.90,240.72 336.00,252.09 336.10,237.03 336.20,248.41 336.30,252.40 336.40,248.83 336.50,252.10 336.60,247.15 336.70,258.05 336.80,257.86 336.90,254.77 337.00,246.64 337.10,250.28 337.20,259.84 337.30,263.74 337.40,257.91 337.50,262.78 337.60,254.84 337.70,257.27 337.80,258.66 337.90,261.12 338.00,252.54 338.10,264.56 338.20,267.92 338.30,255.77 338.40,255.28 338.50,263.81 338.60,259.56 338.70,251.93 338.80,267.46 338.90,264.86 339.00,262.35 339.10,275.13 339.20,266.25 339.30,262.50 339.40,267.05 339.50,262.12 339.60,263.93 339.70,269.87 339.80,265.89 339.90,266.87 340.00,277.41 340.10,273.64 340.20,273.11 340.30,267.95 340.40,272.03 340.50,276.72 340.60,269.75 340.70,279.82 340.80,266.53 340.90,268.81 341.00,254.11 341.10,268.50 341.20,272.67 341.30,277.17 341.40,267.15 341.50,270.40 341.60,268.72 341.70,266.97 341.80,264.88 341.90,270.89 342.00,262.40 342.10,271.24 342.20,258.76 342.30,267.70 342.40,266.07 342.50,264.35 342.60,279.93 342.70,264.67 342.80,278.55 342.90,274.04 343.00,269.51 343.10,258.06 343.20,278.10 343.30,287.61 343.40,267.02 343.50,270.11 343.60,276.60 343.70,273.24 343.80,281.23 343.90,269.05 344.00,274.40 344.10,280.92 344.20,281.91 344.30,268.52 344.40,261.55 344.50,271.51 344.60,271.50 344.70,281.33 344.80,270.67 344.90,272.28 345.00,275.22 345.10,279.97 345.20,272.16 345.30,277.43 345.40,274.99 345.50,271.15 345.60,272.96 345.70,276.41 345.80,268.31 345.90,278.45 346.00,266.14 346.10,288.15 346.20,277.31 346.30,272.37 346.40,269.22 346.50,271.81 346.60,275.15 346.70,276.47 346.80,274.34 346.90,277.71 347.00,270.40 347.10,274.18 347.20,265.68 347.30,278.53 347.40,285.24 347.50,271.23 347.60,278.73 347.70,276.53 347.80,259.99 347.90,273.52 348.00,266.49 348.10,278.43 348.20,285.16 348.30,271.01 348.40,273.84 348.50,272.34 348.60,275.20 348.70,276.61 348.80,279.66 348.90,269.01 349.00,281.05 349.10,269.34 349.20,275.04 349.30,279.19 349.40,277.13 349.50,269.46 349.60,270.60 349.70,271.74 349.80,275.47 349.90,283.58 350.00,268.01 350.10,275.93 350.20,276.39 350.30,275.94 350.40,275.31 350.50,279.91 350.60,274.98 350.70,276.44 350.80,274.89 350.90,280.22 351.00,263.35 351.10,277.42 351.20,270.29 351.30,269.98 351.40,266.72 351.50,262.57 351.60,268.84 351.70,267.27 351.80,272.08 351.90,263.45 352.00,275.36 352.10,270.17 352.20,267.69 352.30,265.47 352.40,262.95 352.50,263.06 352.60,264.86 352.70,266.39 352.80,265.07 352.90,259.99 353.00,263.23 353.10,258.25 353.20,259.00 353.30,260.62 353.40,253.24 353.50,246.79 353.60,239.36 353.70,235.74 353.80,230.54 353.90,235.49 354.00,217.37 354.10,215.90 354.20,207.42 354.30,198.22 354.30,201.62 354.40,207.39 354.50,215.68 354.60,221.86 354.70,231.24 354.80,232.89 354.90,237.50 355.00,251.29 355.10,245.19 355.20,252.85 355.30,264.55 355.40,256.94 355.50,252.14 355.60,266.00 355.70,262.91 355.80,267.32 355.90,268.90 356.00,268.53 356.10,279.85 356.20,266.27 356.30,276.43 356.40,277.43 356.50,274.90 356.60,278.99 356.70,288.83 356.80,281.20 356.90,283.39 357.00,291.47 357.10,274.12 357.20,289.11 357.30,292.63 357.40,287.10 357.50,287.29 357.60,276.73 357.70,282.39 357.80,279.34 357.90,280.34 358.00,287.25 358.10,279.37 358.20,282.38 358.30,274.41 358.40,282.26 358.50,283.39 358.60,279.80 358.70,279.73 358.80,291.55 358.90,277.49 359.00,278.21 359.10,279.31 359.20,288.46 359.30,292.59 359.40,284.51 359.50,279.71 359.60,281.04 359.70,287.88 359.80,278.82 359.90,289.67 360.00,289.51 360.10,283.32 360.20,285.97 360.30,286.45 360.40,274.66 360.50,278.16 360.60,288.44 360.70,281.27 360.80,279.46 360.90,283.47 361.00,282.01 361.10,278.44 361.20,275.63 361.30,278.65 361.40,289.71 361.50,290.29 361.60,285.89 361.70,288.48 361.80,280.61 361.90,282.64 362.00,284.31 362.10,278.00 362.20,278.42 362.30,283.45 362.40,281.52 362.50,278.08 362.60,284.79 362.70,267.28 362.80,287.72 362.90,282.98 363.00,281.61 363.10,283.59 363.20,282.20 363.30,279.91 363.40,281.14 363.50,286.47 363.60,285.99 363.70,288.95 363.80,275.17 363.90,288.16 364.00,281.08 364.10,288.53 364.20,280.91 364.30,280.63 364.40,286.62 364.50,283.82 364.60,277.60 364.70,289.18 364.80,287.61 364.90,280.34 365.00,286.85 365.10,279.60 365.20,288.21 365.30,281.99 365.40,279.28 365.50,281.27 365.60,279.46 365.70,283.89 365.80,286.62 365.90,283.17 366.00,280.42 366.10,267.26 366.20,283.43 366.30,274.22 366.40,284.13 366.50,288.23 366.60,284.27 366.70,281.20 366.80,282.17 366.90,282.38 367.00,280.46 367.10,280.30 367.20,278.72 367.30,278.86 367.40,282.93 367.50,281.12 367.60,281.84 367.70,283.33 367.80,282.21 367.90,285.14 368.00,281.27 368.10,289.21 368.20,279.88 368.30,279.39 368.40,290.68 368.50,272.78 368.60,281.65 368.70,289.78 368.80,288.04 368.90,285.47 369.00,295.69 369.10,298.02 369.20,267.26 369.30,285.53 369.40,282.21 369.50,276.45 369.60,276.82 369.70,284.88 369.80,284.81 369.90,298.53 370.00,277.58 370.10,276.33 370.20,281.48 370.30,276.26 370.40,287.16 370.50,288.33 370.60,296.09 370.70,287.06 370.80,280.26 370.90,278.97 371.00,267.26 371.10,280.25 371.20,282.18 371.30,287.48 371.40,287.84 371.50,285.72 371.60,283.99 371.70,286.06 371.80,289.70 371.90,278.07 372.00,280.88 372.10,276.58 372.20,290.49 372.30,289.00 372.40,286.48 372.50,272.67 372.60,283.80 372.70,281.91 372.80,283.37 372.90,282.13 373.00,285.41 373.10,281.17 373.20,288.42 373.30,284.12 373.40,281.64 373.50,282.48 373.60,280.96 373.70,286.76 373.80,281.75 373.90,284.36 374.00,281.19 374.10,276.14 374.20,287.19 374.30,267.29 374.40,286.14 374.50,284.94 374.60,275.35 374.70,278.64 374.80,280.63 374.90,279.21 375.00,277.55 375.10,286.41 375.20,281.90 375.30,287.07 375.40,281.02 375.50,267.35 375.60,270.25 375.70,282.88 375.80,285.67 375.90,296.59 376.00,280.90 376.10,278.01 376.20,283.77 376.30,297.04 376.40,281.82 376.50,279.48 376.60,285.48 376.70,294.32 376.80,281.62 376.90,284.53 377.00,284.71 377.10,271.35 377.20,283.56 377.30,279.80 377.40,289.24 377.50,281.85 377.60,279.50 377.70,282.01 377.80,283.73 377.90,280.49 378.00,282.74 378.10,276.99 378.20,281.98 378.30,286.36 378.40,291.53 378.50,286.01 378.60,284.11 378.70,287.99 378.80,284.65 378.90,289.90 379.00,279.42 379.10,282.35 379.20,283.87 379.30,283.49 379.40,292.08 379.50,283.46 379.60,279.56 379.70,274.48 379.80,279.91 379.90,274.87 380.00,282.42 380.10,281.16 380.20,274.35 380.30,281.26 380.40,280.61 380.50,276.92 380.60,280.28 380.70,279.26 380.80,269.34 380.90,273.54 381.00,270.27 381.10,268.25 381.20,267.04 381.30,261.82 381.40,259.57 381.50,256.55 381.60,255.46 381.60,255.93 381.70,258.11 381.80,261.41 381.90,266.59 382.00,268.09 382.10,271.33 382.20,268.36 382.30,272.67 382.40,274.95 382.50,278.19 382.60,277.98 382.70,284.05 382.80,282.46 382.90,285.85 383.00,285.42 383.10,293.97 383.20,286.28 383.30,293.24 383.40,292.09 383.50,292.18 383.60,292.94 383.70,295.95 383.80,299.05 383.90,291.60 384.00,298.89 384.10,301.09 384.20,298.26 384.30,303.03 384.40,298.03 384.50,289.78 384.60,304.00 384.70,299.09 384.80,293.92 384.90,298.14 385.00,302.76 385.10,289.99 385.20,301.57 385.30,292.94 385.40,302.11 385.50,298.23 385.60,308.32 385.70,295.73 385.80,290.74 385.90,300.85 386.00,299.22 386.10,299.08 386.20,291.77 386.30,303.05 386.40,316.11 386.50,293.22 386.60,292.98 386.70,299.35 386.80,312.21 386.90,304.04 387.00,301.48 387.10,307.27 387.20,304.91 387.30,300.19 387.40,306.02 387.50,295.57 387.60,289.78 387.70,312.26 387.80,302.03 387.90,301.05 388.00,305.34 388.10,297.22 388.20,298.28 388.30,302.16 388.40,302.23 388.50,304.96 388.60,309.70 388.70,302.90 388.80,307.27 388.90,307.90 389.00,300.72 389.10,306.58 389.20,301.65 389.30,310.53 389.40,308.04 389.50,313.27 389.60,300.55 389.70,307.03 389.80,303.36 389.90,309.91 390.00,306.48 390.10,303.50 390.20,311.05 390.30,310.19 390.40,304.51 390.50,319.26 390.60,305.83 390.70,305.80 390.80,307.70 390.90,303.92 391.00,305.28 391.10,306.52 391.20,313.88 391.30,313.76 391.40,306.16 391.50,314.28 391.60,307.13 391.70,308.99 391.80,311.19 391.90,308.65 392.00,317.87 392.10,312.10 392.20,302.25 392.30,313.12 392.40,305.69 392.50,306.18 392.60,294.55 392.70,311.88 392.80,311.11 392.90,311.04 393.00,311.84 393.10,314.95 393.20,307.44 393.30,311.72 393.40,304.46 393.50,306.17 393.60,312.30 393.70,314.71 393.80,301.98 393.90,309.34 394.00,307.01 394.10,304.27 394.20,314.33 394.30,306.11 394.40,301.08 394.50,303.09 394.60,315.58 394.70,301.38 394.80,308.92 394.90,310.62 395.00,310.49 395.10,302.72 395.20,306.65 395.30,308.67 395.40,311.54 395.50,305.31 395.60,303.09 395.70,312.48 395.80,312.94 395.90,293.47 396.00,305.57 396.10,309.98 396.20,308.71 396.30,311.88 396.40,302.88 396.50,308.80 396.60,307.63 396.70,303.54 396.80,309.29 396.90,308.53 397.00,306.63 397.10,310.13 397.20,302.31 397.30,308.23 397.40,293.78 397.50,309.73 397.60,313.17 397.70,303.35 397.80,302.04 397.90,309.61 398.00,310.57 398.10,317.78 398.20,311.30 398.30,304.88 398.40,312.16 398.50,305.05 398.60,302.30 398.70,320.01 398.80,310.17 398.90,311.87 399.00,311.23 399.10,316.65 399.20,310.07 399.30,314.12 399.40,304.44 399.50,294.22 399.60,315.08 399.70,315.31 399.80,311.16 399.90,309.96 400.00,309.72 400.10,306.02 400.20,315.55 400.30,311.81 400.40,311.14 400.50,310.57 400.60,313.46 400.70,311.11 400.80,312.14 400.90,303.86 401.00,311.10 401.10,316.64 401.20,306.64 401.30,308.31 401.40,312.71 401.50,312.98 401.60,311.54 401.70,301.85 401.80,310.09 401.90,303.70 402.00,305.24 402.10,311.16 402.20,307.50 402.30,312.27 402.40,322.35 402.50,312.11 402.60,311.86 402.70,304.86 402.80,305.94 402.90,304.12 403.00,306.40 403.10,306.35 403.20,305.83 403.30,307.77 403.40,304.34 403.50,302.52 403.60,302.76 403.70,310.59 403.80,308.88 403.90,313.04 404.00,313.11 404.10,307.12 404.20,311.47 404.30,302.35 404.40,318.42 404.50,311.94 404.60,307.61 404.70,303.51 404.80,310.16 404.90,300.44 405.00,296.50 405.10,311.72 405.20,295.63 405.30,306.35 405.40,312.56 405.50,293.79 405.60,309.67 405.70,306.28 405.80,316.03 405.90,310.41 406.00,304.12 406.10,316.58 406.20,305.86 406.30,316.94 406.40,312.13 406.50,310.96 406.60,293.72 406.70,302.57 406.80,309.01 406.90,311.22 407.00,300.70 407.10,313.37 407.20,309.12 407.30,308.83 407.40,309.88 407.50,310.79 407.60,300.56 407.70,315.13 407.80,310.61 407.90,306.40 408.00,303.85 408.10,301.00 408.20,302.41 408.30,310.47 408.40,306.72 408.50,303.38 408.60,305.92 408.70,314.66 408.80,306.73 408.90,319.81 409.00,313.68 409.10,309.98 409.20,303.37 409.30,305.55 409.40,301.70 409.50,305.04 409.60,306.05 409.70,307.09 409.80,309.36 409.90,310.09 410.00,308.76 410.10,317.65 410.20,302.53 410.30,297.44 410.40,302.93 410.50,300.58 410.60,300.96 410.70,301.58 410.80,297.35 410.90,297.08 411.00,299.79 411.10,287.90 411.20,296.27 411.30,299.07 411.40,295.87 411.50,292.55 411.60,294.62 411.70,298.43 411.80,290.49 411.90,293.66 412.00,292.51 412.10,288.04 412.20,284.79 412.30,287.46 412.40,280.57 412.50,279.58 412.60,280.21 412.60,278.30 412.70,280.01 412.80,281.46 412.90,287.98 413.00,283.05 413.10,283.25 413.20,287.91 413.30,288.54 413.40,290.22 413.50,284.97 413.60,291.32 413.70,289.94 413.80,295.67 413.90,278.51 414.00,289.54 414.10,293.77 414.20,283.91 414.30,286.40 414.40,291.18 414.50,286.50 414.60,285.41 414.70,288.33 414.80,287.50 414.90,286.18 415.00,281.89 415.10,283.00 415.20,283.71 415.30,281.47 415.30,282.34 415.40,286.94 415.50,291.88 415.60,291.68 415.70,292.11 415.80,296.70 415.90,300.07 416.00,302.14 416.10,307.45 416.20,306.67 416.30,306.14 416.40,309.38 416.50,304.47 416.60,310.43 416.70,309.29 416.80,320.66 416.90,315.37 417.00,310.49 417.10,310.49 417.20,302.61 417.30,309.25 417.40,313.03 417.50,313.53 417.60,320.03 417.70,315.72 417.80,314.87 417.90,313.28 418.00,314.39 418.10,318.32 418.20,318.17 418.30,323.49 418.40,316.65 418.50,323.35 418.60,327.66 418.70,319.25 418.80,311.29 418.90,314.19 419.00,322.40 419.10,325.10 419.20,320.34 419.30,322.64 419.40,317.93 419.50,318.12 419.60,316.97 419.70,323.71 419.80,321.17 419.90,327.69 420.00,318.50 420.10,322.19 420.20,321.27 420.30,316.55 420.40,327.12 420.50,321.13 420.60,325.43 420.70,333.66 420.80,324.44 420.90,319.88 421.00,322.51 421.10,315.89 421.20,317.71 421.30,311.03 421.40,325.53 421.50,312.61 421.60,323.37 421.70,317.13 421.80,316.56 421.90,319.86 422.00,321.82 422.10,323.30 422.20,328.17 422.30,322.34 422.40,324.55 422.50,318.44 422.60,323.94 422.70,321.65 422.80,319.13 422.90,320.70 423.00,316.02 423.10,321.98 423.20,322.90 423.30,319.15 423.40,314.40 423.50,324.47 423.60,314.34 423.70,318.87 423.80,335.63 423.90,310.26 424.00,318.69 424.10,324.48 424.20,318.96 424.30,325.85 424.40,310.98 424.50,332.36 424.60,328.30 424.70,325.68 424.80,320.99 424.90,323.44 425.00,318.27 425.10,325.27 425.20,317.14 425.30,320.56 425.40,325.75 425.50,316.86 425.60,327.35 425.70,321.98 425.80,315.61 425.90,332.35 426.00,322.42 426.10,314.58 426.20,320.60 426.30,317.46 426.40,317.86 426.50,320.82 426.60,317.44 426.70,324.33 426.80,317.26 426.90,324.20 427.00,319.82 427.10,323.48 427.20,317.54 427.30,317.59 427.40,314.78 427.50,321.92 427.60,323.33 427.70,328.18 427.80,324.61 427.90,320.15 428.00,318.12 428.10,320.53 428.20,318.68 428.30,324.84 428.40,322.56 428.50,314.99 428.60,315.51 428.70,324.04 428.80,320.68 428.90,317.13 429.00,322.98 429.10,316.27 429.20,316.62 429.30,311.47 429.40,309.35 429.50,321.13 429.60,312.32 429.70,314.91 429.80,317.81 429.90,320.16 430.00,316.71 430.10,316.96 430.20,309.74 430.30,316.33 430.40,310.39 430.50,317.79 430.60,317.94 430.70,316.23 430.80,324.79 430.90,318.32 431.00,318.50 431.10,316.50 431.20,330.07 431.30,319.75 431.40,320.22 431.50,310.05 431.60,319.81 431.70,317.45 431.80,319.21 431.90,317.04 432.00,309.81 432.10,309.65 432.20,321.69 432.30,314.67 432.40,307.26 432.50,314.15 432.60,310.74 432.70,304.13 432.80,301.83 432.90,305.73 433.00,311.53 433.10,304.22 433.20,308.46 433.30,313.31 433.40,311.01 433.50,299.52 433.60,306.39 433.70,303.80 433.80,301.72 433.90,304.01 434.00,305.22 434.10,304.18 434.20,299.05 434.30,302.36 434.40,311.45 434.50,299.22 434.60,296.37 434.70,303.15 434.80,303.74 434.90,302.65 435.00,296.47 435.10,303.17 435.20,288.03 435.30,294.67 435.40,295.67 435.50,296.43 435.60,297.82 435.70,296.34 435.80,293.29 435.90,294.32 436.00,290.65 436.10,290.69 436.20,284.05 436.30,281.87 436.40,283.30 436.50,277.48 436.60,275.59 436.70,271.93 436.70,271.67 436.80,274.24 436.90,278.61 437.00,274.64 437.10,283.20 437.20,290.04 437.30,287.00 437.40,289.21 437.50,293.21 437.60,298.23 437.70,290.26 437.80,297.18 437.90,298.00 438.00,301.89 438.10,302.16 438.20,305.29 438.30,303.09 438.40,313.14 438.50,304.90 438.60,306.21 438.70,309.37 438.80,310.65 438.90,308.11 439.00,319.54 439.10,314.44 439.20,310.96 439.30,321.61 439.40,315.79 439.50,321.83 439.60,321.03 439.70,323.28 439.80,324.19 439.90,322.51 440.00,326.11 440.10,333.99 440.20,317.40 440.30,326.53 440.40,328.09 440.50,322.32 440.60,321.15 440.70,335.27 440.80,325.31 440.90,335.19 441.00,330.21 441.10,327.40 441.20,329.10 441.30,329.85 441.40,332.14 441.50,338.28 441.60,328.18 441.70,328.41 441.80,333.26 441.90,331.20 442.00,323.95 442.10,325.53 442.20,341.96 442.30,325.78 442.40,326.87 442.50,324.63 442.60,327.54 442.70,330.42 442.80,331.20 442.90,328.94 443.00,337.41 443.10,328.79 443.20,342.15 443.30,333.36 443.40,331.41 443.50,327.48 443.60,318.15 443.70,329.07 443.80,330.52 443.90,337.69 444.00,324.41 444.10,337.82 444.20,322.34 444.30,333.23 444.40,320.12 444.50,331.06 444.60,333.29 444.70,333.46 444.80,331.17 444.90,326.28 445.00,334.83 445.10,333.83 445.20,333.45 445.30,335.14 445.40,335.53 445.50,331.01 445.60,325.09 445.70,325.54 445.80,336.62 445.90,334.05 446.00,331.61 446.10,329.46 446.20,331.37 446.30,331.36 446.40,331.32 446.50,328.47 446.60,340.07 446.70,332.26 446.80,328.91 446.90,326.12 447.00,328.47 447.10,334.33 447.20,334.50 447.30,330.58 447.40,331.69 447.50,330.27 447.60,322.17 447.70,336.80 447.80,333.07 447.90,341.58 448.00,328.55 448.10,331.06 448.20,335.21 448.30,330.67 448.40,326.08 448.50,327.87 448.60,332.13 448.70,333.13 448.80,331.38 448.90,335.83 449.00,335.81 449.10,333.12 449.20,331.95 449.30,330.84 449.40,334.10 449.50,335.61 449.60,332.16 449.70,333.76 449.80,335.53 449.90,326.28 450.00,328.74 450.10,335.09 450.20,333.80 450.30,320.45 450.40,332.23 450.50,335.49 450.60,337.34 450.70,336.01 450.80,329.54 450.90,331.26 451.00,332.52 451.10,328.02 451.20,332.12 451.30,336.13 451.40,330.06 451.50,339.96 451.60,333.82 451.70,331.18 451.80,331.04 451.90,329.14 452.00,333.69 452.10,332.08 452.20,345.72 452.30,334.45 452.40,334.17 452.50,331.11 452.60,326.29 452.70,331.64 452.80,328.57 452.90,335.84 453.00,331.88 453.10,338.72 453.20,330.31 453.30,335.37 453.40,332.93 453.50,332.84 453.60,334.64 453.70,335.72 453.80,329.13 453.90,333.99 454.00,342.58 454.10,331.64 454.20,330.97 454.30,329.21 454.40,326.15 454.50,336.80 454.60,325.70 454.70,333.21 454.80,339.44 454.90,342.12 455.00,328.41 455.10,336.20 455.20,334.40 455.30,333.43 455.40,333.70 455.50,341.47 455.60,338.07 455.70,334.07 455.80,332.92 455.90,336.51 456.00,335.03 456.10,333.21 456.20,332.61 456.30,338.33 456.40,333.23 456.50,325.80 456.60,327.58 456.70,329.60 456.80,326.68 456.90,332.38 457.00,331.85 457.10,322.44 457.20,330.77 457.30,337.43 457.40,331.25 457.50,326.64 457.60,335.59 457.70,327.57 457.80,325.35 457.90,325.89 458.00,330.15 458.10,334.14 458.20,334.82 458.30,330.88 458.40,325.12 458.50,327.24 458.60,326.20 458.70,329.06 458.80,322.52 458.90,330.12 459.00,332.23 459.10,328.94 459.20,331.36 459.30,325.61 459.40,323.45 459.50,326.71 459.60,333.95 459.70,333.38 459.80,327.26 459.90,333.96 460.00,327.68 460.10,341.75 460.20,331.29 460.30,327.90 460.40,332.87 460.50,326.66 460.60,326.16 460.70,324.23 460.80,331.33 460.90,330.22 461.00,330.29 461.10,319.91 461.20,336.74 461.30,329.37 461.40,328.31 461.50,336.44 461.60,337.30 461.70,333.09 461.80,324.86 461.90,338.29 462.00,334.67 462.10,332.43 462.20,338.78 462.30,323.72 462.40,335.57 462.50,330.48 462.60,334.30 462.70,333.02 462.80,337.62 462.90,331.04 463.00,328.14 463.10,329.51 463.20,331.69 463.30,347.07 463.40,339.25 463.50,339.96 463.60,335.85 463.70,330.78 463.80,334.61 463.90,339.98 464.00,341.21 464.10,336.82 464.20,329.05 464.30,334.29 464.40,328.02 464.50,333.13 464.60,331.91 464.70,337.99 464.80,337.06 464.90,333.65 465.00,335.46 465.10,343.30 465.20,333.35 465.30,333.60 465.40,336.41 465.50,334.63 465.60,335.78 465.70,339.67 465.80,344.51 465.90,326.87 466.00,337.73 466.10,338.04 466.20,337.63 466.30,337.30 466.40,336.77 466.50,342.18 466.60,336.44 466.70,337.86 466.80,338.44 466.90,338.95 467.00,337.92 467.10,342.63 467.20,338.73 467.30,339.53 467.40,338.72 467.50,335.04 467.60,335.80 467.70,335.02 467.80,340.00 467.90,336.51 468.00,335.21 468.10,340.42 468.20,341.63 468.30,332.70 468.40,346.38 468.50,338.09 468.60,339.47 468.70,344.16 468.80,340.31 468.90,337.74 469.00,348.83 469.10,336.05 469.20,339.98 469.30,343.77 469.40,336.32 469.50,334.25 469.60,342.20 469.70,350.19 469.80,327.49 469.90,340.73 470.00,343.58 470.10,341.44 470.20,336.52 470.30,349.66 470.40,341.90 470.50,343.35 470.60,346.15 470.70,352.28 470.80,343.56 470.90,343.29 471.00,340.05 471.10,341.80 471.20,343.30 471.30,340.99 471.40,343.06 471.50,339.58 471.60,345.81 471.70,351.43 471.80,341.64 471.90,344.84 472.00,342.49 472.10,348.44 472.20,345.33 472.30,344.06 472.40,344.88 472.50,344.49 472.60,340.23 472.70,352.17 472.80,341.59 472.90,346.56 473.00,336.86 473.10,348.97 473.20,344.77 473.30,348.92 473.40,341.51 473.50,347.56 473.60,344.45 473.70,343.68 473.80,341.50 473.90,349.30 474.00,338.00 474.10,347.17 474.20,340.27 474.30,350.82 474.40,338.67 474.50,342.53 474.60,340.07 474.70,352.96 474.80,347.52 474.90,349.56 475.00,344.94 475.10,340.13 475.20,345.82 475.30,339.51 475.40,346.53 475.50,350.92 475.60,345.97 475.70,347.45 475.80,346.00 475.90,348.86 476.00,354.89 476.10,349.05 476.20,348.47 476.30,345.41 476.40,344.94 476.50,348.76 476.60,343.69 476.70,344.52 476.80,347.71 476.90,346.51 477.00,355.70 477.10,339.19 477.20,349.70 477.30,351.11 477.40,344.15 477.50,346.03 477.60,350.22 477.70,354.86 477.80,345.16 477.90,356.88 478.00,352.52 478.10,354.69 478.20,340.08 478.30,340.51 478.40,354.59 478.50,348.34 478.60,353.46 478.70,349.05 478.80,347.84 478.90,347.61 479.00,355.03 479.10,354.94 479.20,341.36 479.30,347.35 479.40,356.42 479.50,348.30 479.60,344.57 479.70,349.84 479.80,349.47 479.90,349.57 480.00,348.17 480.10,348.80 480.20,348.22 480.30,351.21 480.40,346.82 480.50,348.80 480.60,344.49 480.70,354.84 480.80,361.27 480.90,349.40 481.00,351.85 481.10,350.96 481.20,353.91 481.30,351.67 481.40,356.56 481.50,354.83 481.60,346.20 481.70,348.08 481.80,353.01 481.90,351.59 482.00,349.24 482.10,343.94 482.20,342.57 482.30,350.87 482.40,352.46 482.50,352.57 482.60,344.57 482.70,353.42 482.80,347.40 482.90,350.90 483.00,350.99 483.10,346.32 483.20,347.10 483.30,341.42 483.40,345.82 483.50,336.31 483.60,350.95 483.70,349.49 483.80,352.73 483.90,350.58 484.00,344.97 484.10,350.50 484.20,347.67 484.30,351.47 484.40,357.03 484.50,345.32 484.60,349.09 484.70,349.27 484.80,353.33 484.90,352.44 485.00,355.55 485.10,347.53 485.20,347.54 485.30,335.81 485.40,348.27 485.50,359.53 485.60,338.54 485.70,349.68 485.80,350.78 485.90,345.65 486.00,346.97 486.10,344.64 486.20,351.20 486.30,342.41 486.40,346.96 486.50,355.58 486.60,348.24 486.70,349.77 486.80,347.36 486.90,343.36 487.00,347.67 487.10,349.30 487.20,343.76 487.30,348.93 487.40,352.34 487.50,351.61 487.60,341.37 487.70,343.64 487.80,341.13 487.90,351.37 488.00,349.54 488.10,341.58 488.20,343.71 488.30,342.54 488.40,347.26 488.50,347.29 488.60,343.56 488.70,347.33 488.80,349.19 488.90,347.53 489.00,342.61 489.10,338.44 489.20,345.49 489.30,347.05 489.40,345.36 489.50,344.66 489.60,343.59 489.70,348.92 489.80,345.92 489.90,346.53 490.00,342.29 490.10,344.43 490.20,345.96 490.30,341.15 490.40,339.85 490.50,343.07 490.60,348.59 490.70,344.39 490.80,348.90 490.90,342.49 491.00,341.48 491.10,332.24 491.20,339.80 491.30,342.67 491.40,337.71 491.50,343.76 491.60,343.31 491.70,340.28 491.80,339.21 491.90,340.09 492.00,341.81 492.10,340.66 492.20,340.44 492.30,338.85 492.40,335.11 492.50,336.06 492.60,333.84 492.70,340.49 492.80,325.47 492.90,335.40 493.00,344.13 493.10,323.06 493.20,329.92 493.30,332.73 493.40,336.06 493.50,330.20 493.60,331.65 493.70,328.91 493.80,326.35 493.90,335.85 494.00,325.42 494.10,322.49 494.20,321.43 494.30,322.45 494.40,321.09 494.50,320.43 494.60,317.36 494.70,312.47 494.80,314.53 494.90,311.04 495.00,308.93 495.10,305.12 495.20,303.59 495.30,300.54 495.30,300.98 495.40,302.56 495.50,306.50 495.60,308.87 495.70,308.83 495.80,313.36 495.90,310.19 496.00,317.54 496.10,310.93 496.20,317.28 496.30,314.94 496.40,319.20 496.50,323.84 496.60,320.55 496.70,323.77 496.80,321.63 496.90,335.99 497.00,328.98 497.10,330.58 497.20,323.19 497.30,324.71 497.40,333.01 497.50,329.38 497.60,329.93 497.70,332.80 497.80,327.86 497.90,335.95 498.00,333.97 498.10,336.63 498.20,337.54 498.30,338.69 498.40,335.14 498.50,342.26 498.60,343.88 498.70,344.03 498.80,343.51 498.90,344.90 499.00,333.36 499.10,352.43 499.20,344.36 499.30,346.70 499.40,346.23 499.50,343.05 499.60,347.18 499.70,354.10 499.80,356.37 499.90,349.73 500.00,349.64 500.10,358.49 500.20,349.92 500.30,361.01 500.40,353.59 500.50,350.21 500.60,366.27 500.70,360.02 500.80,346.01 500.90,359.72 501.00,352.95 501.10,352.06 501.20,352.78 501.30,348.41 501.40,359.03 501.50,357.96 501.60,362.43 501.70,361.14 501.80,357.40 501.90,354.01 502.00,342.29 502.10,354.00 502.20,352.10 502.30,354.27 502.40,345.90 502.50,356.17 502.60,352.73 502.70,365.28 502.80,358.63 502.90,354.11 503.00,358.11 503.10,351.53 503.20,353.95 503.30,349.34 503.40,361.75 503.50,358.71 503.60,353.96 503.70,356.47 503.80,360.34 503.90,358.74 504.00,358.42 504.10,353.91 504.20,354.83 504.30,354.54 504.40,360.82 504.50,354.42 504.60,353.43 504.70,361.95 504.80,354.35 504.90,361.90 505.00,358.90 505.10,361.32 505.20,364.57 505.30,360.70 505.40,361.08 505.50,354.85 505.60,355.72 505.70,360.74 505.80,364.09 505.90,363.61 506.00,367.08 506.10,359.70 506.20,359.35 506.30,362.38 506.40,358.77 506.50,358.52 506.60,354.92 506.70,362.52 506.80,354.93 506.90,360.84 507.00,353.75 507.10,363.10 507.20,355.30 507.30,362.27 507.40,353.33 507.50,357.62 507.60,363.65 507.70,356.37 507.80,369.33 507.90,357.68 508.00,350.97 508.10,360.69 508.20,361.20 508.30,360.99 508.40,361.82 508.50,356.81 508.60,356.10 508.70,359.88 508.80,357.39 508.90,368.40 509.00,354.27 509.10,362.77 509.20,363.74 509.30,352.86 509.40,354.76 509.50,362.32 509.60,358.53 509.70,361.76 509.80,364.59 509.90,359.08 510.00,353.62 510.10,350.51 510.20,361.35 510.30,365.64 510.40,361.85 510.50,361.60 510.60,350.63 510.70,367.18 510.80,361.79 510.90,364.07 511.00,356.65 511.10,365.29 511.20,359.09 511.30,359.63 511.40,357.08 511.50,362.84 511.60,362.14 511.70,362.69 511.80,359.55 511.90,366.18 512.00,362.19 512.10,351.52 512.20,363.83 512.30,361.44 512.40,365.23 512.50,360.65 512.60,374.24 512.70,359.43 512.80,362.76 512.90,360.31 513.00,359.79 513.10,359.34 513.20,364.13 513.30,360.20 513.40,356.08 513.50,364.52 513.60,359.74 513.70,349.95 513.80,363.76 513.90,366.83 514.00,366.30 514.10,360.46 514.20,361.99 514.30,357.96 514.40,368.79 514.50,369.37 514.60,367.86 514.70,361.69 514.80,355.48 514.90,368.49 515.00,363.34 515.10,363.35 515.20,362.95 515.30,374.39 515.40,364.41 515.50,356.62 515.60,366.15 515.70,360.20 515.80,360.30 515.90,368.06 516.00,365.03 516.10,360.38 516.20,354.82 516.30,361.92 516.40,363.13 516.50,360.80 516.60,356.53 516.70,358.02 516.80,356.26 516.90,361.33 517.00,363.31 517.10,363.89 517.20,357.62 517.30,359.73 517.40,361.82 517.50,369.13 517.60,359.13 517.70,366.70 517.80,360.05 517.90,362.17 518.00,357.64 518.10,359.06 518.20,353.23 518.30,358.54 518.40,362.22 518.50,364.81 518.60,361.76 518.70,359.98 518.80,357.86 518.90,355.76 519.00,356.81 519.10,358.67 519.20,354.64 519.30,358.78 519.40,362.70 519.50,351.48 519.60,352.94 519.70,351.19 519.80,351.40 519.90,355.45 520.00,352.28 520.10,352.00 520.20,352.05 520.30,350.62 520.40,346.27 520.50,346.74 520.50,346.22 520.60,347.95 520.70,350.09 520.80,349.28 520.90,351.18 521.00,353.24 521.10,355.47 521.20,354.50 521.30,355.71 521.40,358.80 521.50,360.56 521.60,359.70 521.70,361.56 521.80,355.18 521.90,358.43 522.00,353.40 522.10,359.22 522.20,358.98 522.30,365.74 522.40,364.00 522.50,358.54 522.60,363.37 522.70,367.97 522.80,362.75 522.90,371.62 523.00,365.81 523.10,361.81 523.20,361.44 523.30,363.55 523.40,370.49 523.50,353.15 523.60,370.47 523.70,361.78 523.80,364.71 523.90,368.67 524.00,368.26 524.10,367.36 524.20,360.97 524.30,362.80 524.40,363.70 524.50,376.49 524.60,367.09 524.70,368.79 524.80,364.41 524.90,356.81 525.00,364.48 525.10,372.45 525.20,368.10 525.30,371.01 525.40,366.63 525.50,367.28 525.60,373.60 525.70,365.64 525.80,362.71 525.90,370.53 526.00,365.06 526.10,367.55 526.20,360.59 526.30,366.23 526.40,372.26 526.50,366.73 526.60,374.45 526.70,364.04 526.80,367.50 526.90,368.43 527.00,366.24 527.10,369.92 527.20,373.31 527.30,364.08 527.40,372.51 527.50,364.54 527.60,366.20 527.70,362.90 527.80,376.78 527.90,357.91 528.00,368.87 528.10,366.90 528.20,373.12 528.30,361.84 528.40,369.44 528.50,377.21 528.60,368.00 528.70,369.43 528.80,371.78 528.90,366.50 529.00,369.48 529.10,372.84 529.20,373.26 529.30,370.75 529.40,372.83 529.50,370.58 529.60,369.54 529.70,374.66 529.80,372.06 529.90,368.62 530.00,357.38 530.10,372.06 530.20,372.21 530.30,366.21 530.40,362.42 530.50,365.48 530.60,372.86 530.70,365.77 530.80,367.94 530.90,370.38 531.00,373.96 531.10,369.55 531.20,369.26 531.30,367.67 531.40,375.45 531.50,373.45 531.60,369.32 531.70,364.69 531.80,366.86 531.90,375.97 532.00,367.13 532.10,372.89 532.20,371.01 532.30,370.77 532.40,372.07 532.50,371.53 532.60,366.71 532.70,366.46 532.80,378.52 532.90,363.26 533.00,368.11 533.10,373.60 533.20,369.25 533.30,366.94 533.40,365.13 533.50,371.76 533.60,373.49 533.70,374.85 533.80,370.07 533.90,373.61 534.00,366.22 534.10,366.68 534.20,367.78 534.30,370.55 534.40,372.61 534.50,373.76 534.60,366.44 534.70,366.31 534.80,368.29 534.90,366.34 535.00,369.39 535.10,364.72 535.20,369.86 535.30,370.80 535.40,368.98 535.50,371.53 535.60,368.42 535.70,369.48 535.80,364.27 535.90,369.47 536.00,366.21 536.10,367.56 536.20,368.76 536.30,369.69 536.40,363.08 536.50,371.03 536.60,367.71 536.70,370.40 536.80,369.91 536.90,371.73 537.00,373.11 537.10,370.17 537.20,368.26 537.30,364.59 537.40,364.82 537.50,366.44 537.60,368.97 537.70,357.32 537.80,367.89 537.90,367.26 538.00,369.95 538.10,368.38 538.20,368.62 538.30,371.94 538.40,365.49 538.50,363.72 538.60,368.99 538.70,368.65 538.80,356.54 538.90,365.58 539.00,378.79 539.10,364.24 539.20,366.05 539.30,367.64 539.40,362.68 539.50,366.97 539.60,372.62 539.70,369.58 539.80,374.51 539.90,368.24 540.00,366.54 540.10,369.26 540.20,365.49 540.30,364.53 540.40,366.15 540.50,368.63 540.60,366.68 540.70,367.65 540.80,359.20 540.90,368.96 541.00,372.21 541.10,369.02 541.20,364.06 541.30,362.45 541.40,365.44 541.50,361.89 541.60,361.89 541.70,362.81 541.80,363.97 541.90,366.74 542.00,358.91 542.10,363.57 542.20,361.24 542.30,359.63 542.40,360.57 542.50,360.61 542.60,361.44 542.70,357.74 542.80,359.07 542.90,358.10 542.90,357.33 543.00,358.98 543.10,359.88 543.20,359.65 543.30,362.90 543.40,363.69 543.50,365.21 543.60,369.57 543.70,366.89 543.80,366.98 543.90,370.21 544.00,364.06 544.10,364.97 544.20,367.34 544.30,367.07 544.40,371.13 544.50,368.84 544.60,375.07 544.70,374.96 544.80,366.47 544.90,370.29 545.00,373.35 545.10,374.45 545.20,368.80 545.30,373.30 545.40,374.55 545.50,373.13 545.60,377.59 545.70,376.58 545.80,370.08 545.90,373.28 546.00,370.22 546.10,375.00 546.20,373.12 546.30,376.37 546.40,374.69 546.50,384.93 546.60,363.60 546.70,368.76 546.80,379.79 546.90,373.31 547.00,378.69 547.10,375.57 547.20,376.50 547.30,380.57 547.40,384.34 547.50,379.31 547.60,365.36 547.70,377.70 547.80,373.96 547.90,374.44 548.00,375.03 548.10,376.30 548.20,380.93 548.30,368.89 548.40,375.55 548.50,373.02 548.60,379.64 548.70,374.23 548.80,377.38 548.90,376.49 549.00,384.59 549.10,379.62 549.20,374.82 549.30,376.47 549.40,371.48 549.50,377.56 549.60,379.57 549.70,374.78 549.80,380.68 549.90,369.72 550.00,370.59 550.10,372.27 550.20,375.48 550.30,377.30 550.40,380.92 550.50,377.17 550.60,379.98 550.70,375.93 550.80,376.28 550.90,373.42 551.00,385.10 551.10,369.75 551.20,377.35 551.30,383.08 551.40,379.79 551.50,375.34 551.60,378.29 551.70,379.94 551.80,382.55 551.90,375.42 552.00,381.22 552.10,379.55 552.20,382.57 552.30,383.63 552.40,377.74 552.50,375.09 552.60,380.44 552.70,385.27 552.80,381.60 552.90,380.11 553.00,387.66 553.10,375.90 553.20,391.14 553.30,377.68 553.40,379.89 553.50,380.11 553.60,385.08 553.70,368.29 553.80,378.20 553.90,374.66 554.00,381.87 554.10,378.71 554.20,381.81 554.30,376.76 554.40,379.29 554.50,384.16 554.60,380.08 554.70,379.44 554.80,382.65 554.90,379.71 555.00,375.67 555.10,384.39 555.20,381.62 555.30,384.42 555.40,374.20 555.50,375.45 555.60,373.80 555.70,378.14 555.80,384.72 555.90,383.11 556.00,381.08 556.10,381.67 556.20,383.84 556.30,380.23 556.40,382.63 556.50,381.78 556.60,373.85 556.70,380.03 556.80,386.00 556.90,380.03 557.00,380.91 557.10,379.35 557.20,379.79 557.30,385.30 557.40,380.57 557.50,378.01 557.60,370.90 557.70,379.59 557.80,374.85 557.90,375.36 558.00,384.31 558.10,384.04 558.20,375.10 558.30,384.56 558.40,383.25 558.50,379.03 558.60,375.48 558.70,376.19 558.80,377.65 558.90,376.87 559.00,378.01 559.10,384.81 559.20,377.29 559.30,377.94 559.40,378.64 559.50,375.81 559.60,380.76 559.70,384.88 559.80,379.54 559.90,371.99 560.00,380.28 560.10,382.08 560.20,378.74 560.30,382.81 560.40,388.01 560.50,379.80 560.60,381.88 560.70,386.30 560.80,387.14 560.90,378.71 561.00,377.83 561.10,382.87 561.20,383.23 561.30,380.92 561.40,381.53 561.50,385.69 561.60,384.26 561.70,376.47 561.80,381.18 561.90,381.53 562.00,383.58 562.10,392.78 562.20,388.36 562.30,379.43 562.40,374.87 562.50,380.82 562.60,378.83 562.70,382.42 562.80,377.27 562.90,379.25 563.00,369.17 563.10,377.00 563.20,383.00 563.30,378.97 563.40,382.04 563.50,376.65 563.60,380.77 563.70,374.61 563.80,378.71 563.90,378.59 564.00,382.26 564.10,380.84 564.20,379.58 564.30,383.54 564.40,380.75 564.50,381.90 564.60,382.64 564.70,379.75 564.80,378.93 564.90,381.01 565.00,378.42 565.10,381.12 565.20,383.53 565.30,382.60 565.40,378.30 565.50,375.14 565.60,379.29 565.70,378.99 565.80,375.13 565.90,377.99 566.00,378.52 566.10,381.71 566.20,377.48 566.30,378.51 566.40,384.89 566.50,384.06 566.60,381.04 566.70,379.74 566.80,378.58 566.90,380.62 567.00,378.84 567.10,379.34 567.20,376.73 567.30,378.42 567.40,377.76 567.50,388.45 567.60,383.20 567.70,379.46 567.80,372.44 567.90,374.75 568.00,372.58 568.10,375.24 568.20,384.02 568.30,379.24 568.40,375.73 568.50,378.65 568.60,375.06 568.70,372.71 568.80,372.70 568.90,374.53 569.00,382.34 569.10,372.74 569.20,381.61 569.30,381.84 569.40,376.56 569.50,376.96 569.60,374.95 569.70,376.92 569.80,379.23 569.90,376.92 570.00,380.28 570.10,380.83 570.20,377.81 570.30,377.66 570.40,376.21 570.50,377.52 570.60,372.36 570.70,377.53 570.80,376.73 570.90,372.93 571.00,383.29 571.10,372.35 571.20,372.60 571.30,376.49 571.40,368.69 571.50,372.57 571.60,369.92 571.70,371.76 571.80,374.56 571.90,376.03 572.00,378.65 572.10,377.52 572.20,378.73 572.30,382.80 572.40,372.78 572.50,378.19 572.60,372.52 572.70,371.98 572.80,379.33 572.90,376.65 573.00,374.57 573.10,376.32 573.20,376.66 573.30,368.78 573.40,373.08 573.50,369.22 573.60,372.58 573.70,370.78 573.80,377.71 573.90,374.70 574.00,370.00 574.10,372.64 574.20,368.43 574.30,372.64 574.40,374.28 574.50,360.83 574.60,365.61 574.70,360.68 574.80,373.73 574.90,372.94 575.00,375.72 575.10,367.03 575.20,372.69 575.30,368.32 575.40,370.72 575.50,370.98 575.60,370.80 575.70,366.86 575.80,368.93 575.90,367.92 576.00,362.87 576.10,368.78 576.20,366.37 576.30,360.99 576.40,362.98 576.50,365.23 576.60,369.42 576.70,367.34 576.80,366.07 576.90,358.07 577.00,362.43 577.10,370.69 577.20,362.67 577.30,362.11 577.40,359.82 577.50,364.01 577.60,360.81 577.70,358.09 577.80,355.45 577.90,360.56 578.00,354.60 578.10,356.43 578.20,356.00 578.30,350.65 578.40,350.53 578.50,348.11 578.60,347.18 578.60,347.07 578.70,350.34 578.80,350.96 578.90,351.87 579.00,354.47 579.10,353.37 579.20,354.00 579.30,359.73 579.40,355.37 579.50,355.43 579.60,362.16 579.70,354.76 579.80,351.94 579.90,360.69 580.00,356.14 580.10,356.96 580.20,357.51 580.30,356.25 580.40,356.15 580.50,358.58 580.60,362.34 580.70,358.97 580.80,358.44 580.90,354.95 581.00,356.08 581.10,354.97 581.20,359.29 581.20,358.76 581.30,362.87 581.40,366.49 581.50,369.44 581.60,369.84 581.70,374.45 581.80,376.52 581.90,375.96 582.00,377.37 582.10,379.43 582.20,381.09 582.30,384.01 582.40,383.51 582.50,384.55 582.60,385.26 582.70,388.48 582.80,382.63 582.90,389.43 583.00,387.03 583.10,386.21 583.20,389.62 583.30,388.54 583.40,391.32 583.50,392.85 583.60,382.89 583.70,381.76 583.80,395.54 583.90,392.32 584.00,394.10 584.10,390.02 584.20,385.30 584.30,386.23 584.40,391.92 584.50,392.70 584.60,387.41 584.70,388.80 584.80,390.52 584.90,384.13 585.00,388.57 585.10,394.85 585.20,396.68 585.30,389.32 585.40,384.19 585.50,387.97 585.60,378.85 585.70,382.40 585.80,392.75 585.90,388.42 586.00,397.24 586.10,390.71 586.20,390.23 586.30,383.72 586.40,394.51 586.50,388.42 586.60,389.07 586.70,382.36 586.80,391.02 586.90,389.89 587.00,387.59 587.10,393.70 587.20,390.85 587.30,392.73 587.40,389.90 587.50,395.22 587.60,388.74 587.70,387.54 587.80,387.99 587.90,390.92 588.00,386.86 588.10,392.84 588.20,390.38 588.30,386.80 588.40,390.65 588.50,382.83 588.60,388.55 588.70,391.22 588.80,391.78 588.90,386.68 589.00,392.48 589.10,395.64 589.20,388.05 589.30,391.90 589.40,384.30 589.50,395.09 589.60,391.46 589.70,389.57 589.80,390.08 589.90,387.49 590.00,388.44 590.10,392.09 590.20,395.08 590.30,384.68 590.40,383.93 590.50,393.60 590.60,391.37 590.70,391.63 590.80,389.97 590.90,397.05 591.00,389.61 591.10,391.06 591.20,383.21 591.30,392.61 591.40,387.06 591.50,389.23 591.60,390.48 591.70,386.84 591.80,395.04 591.90,385.78 592.00,379.19 592.10,390.08 592.20,385.15 592.30,391.17 592.40,391.37 592.50,388.30 592.60,395.59 592.70,390.39 592.80,390.18 592.90,383.91 593.00,383.70 593.10,387.15 593.20,388.17 593.30,387.72 593.40,391.77 593.50,381.31 593.60,385.45 593.70,383.15 593.80,393.64 593.90,387.32 594.00,387.48 594.10,385.53 594.20,390.73 594.30,387.80 594.40,393.90 594.50,382.41 594.60,380.20 594.70,390.45 594.80,391.75 594.90,393.23 595.00,388.49 595.10,383.04 595.20,391.50 595.30,390.53 595.40,388.29 595.50,389.25 595.60,388.22 595.70,394.13 595.80,392.18 595.90,389.10 596.00,395.31 596.10,383.96 596.20,385.76 596.30,394.73 596.40,387.65 596.50,383.73 596.60,393.67 596.70,390.84 596.80,385.06 596.90,391.60 597.00,385.62 597.10,382.02 597.20,388.50 597.30,387.40 597.40,377.89 597.50,387.77 597.60,385.65 597.70,389.18 597.80,388.89 597.90,391.44 598.00,391.18 598.10,384.53 598.20,384.57 598.30,388.13 598.40,394.04 598.50,391.75 598.60,386.79 598.70,392.05 598.80,385.06 598.90,392.28 599.00,387.63 599.10,391.45 599.20,390.96 599.30,383.38 599.40,389.97 599.50,385.33 599.60,388.62 599.70,392.46 599.80,400.28 599.90,391.19 600.00,389.14 600.10,385.52 600.20,392.45 600.30,383.46 600.40,386.34 600.50,390.24 600.60,385.08 600.70,394.24 600.80,392.80 600.90,387.32 601.00,387.40 601.10,384.91 601.20,384.68 601.30,390.84 601.40,391.48 601.50,390.61 601.60,390.37 601.70,387.67 601.80,390.76 601.90,384.73 602.00,389.67 602.10,397.58 602.20,394.11 602.30,388.23 602.40,388.70 602.50,394.41 602.60,395.81 602.70,384.97 602.80,388.56 602.90,381.12 603.00,394.08 603.10,387.31 603.20,392.26 603.30,389.17 603.40,398.07 603.50,391.67 603.60,389.84 603.70,389.22 603.80,393.86 603.90,392.66 604.00,386.87 604.10,391.21 604.20,386.10 604.30,388.07 604.40,386.33 604.50,386.27 604.60,388.42 604.70,387.49 604.80,392.52 604.90,393.44 605.00,390.06 605.10,387.20 605.20,393.59 605.30,384.29 605.40,384.64 605.50,393.45 605.60,393.26 605.70,394.35 605.80,390.46 605.90,387.05 606.00,389.57 606.10,393.16 606.20,388.81 606.30,398.27 606.40,386.82 606.50,380.73 606.60,394.27 606.70,393.03 606.80,387.75 606.90,395.84 607.00,389.80 607.10,393.50 607.20,384.87 607.30,391.22 607.40,384.75 607.50,387.72 607.60,393.28 607.70,394.89 607.80,388.17 607.90,393.13 608.00,394.68 608.10,390.81 608.20,389.39 608.30,393.88 608.40,392.86 608.50,400.47 608.60,394.90 608.70,390.44 608.80,391.99 608.90,392.25 609.00,388.01 609.10,389.30 609.20,395.73 609.30,387.37 609.40,395.88 609.50,393.59 609.60,392.24 609.70,394.50 609.80,394.34 609.90,396.78 610.00,391.55 610.10,392.10 610.20,392.04 610.30,399.00 610.40,395.93 610.50,389.79 610.60,400.22 610.70,390.49 610.80,392.84 610.90,393.49 611.00,400.29 611.10,386.79 611.20,396.14 611.30,394.19 611.40,390.45 611.50,392.25 611.60,391.11 611.70,392.89 611.80,396.02 611.90,387.74 612.00,397.01 612.10,391.47 612.20,397.61 612.30,394.03 612.40,396.72 612.50,394.52 612.60,396.22 612.70,397.34 612.80,389.92 612.90,394.84 613.00,394.96 613.10,399.50 613.20,386.05 613.30,391.96 613.40,396.08 613.50,388.49 613.60,391.84 613.70,399.52 613.80,401.78 613.90,389.68 614.00,397.23 614.10,396.43 614.20,395.09 614.30,393.78 614.40,393.31 614.50,389.67 614.60,390.82 614.70,403.72 614.80,388.28 614.90,398.55 615.00,391.39 615.10,384.61 615.20,391.37 615.30,393.37 615.40,393.71 615.50,392.67 615.60,389.74 615.70,397.33 615.80,390.25 615.90,394.74 616.00,391.47 616.10,388.48 616.20,397.02 616.30,384.17 616.40,389.59 616.50,393.79 616.60,399.93 616.70,394.81 616.80,392.02 616.90,390.86 617.00,399.41 617.10,392.09 617.20,391.80 617.30,388.77 617.40,389.86 617.50,394.43 617.60,394.14 617.70,392.29 617.80,381.22 617.90,394.52 618.00,386.69 618.10,391.14 618.20,391.42 618.30,389.47 618.40,392.74 618.50,390.04 618.60,389.59 618.70,398.12 618.80,394.64 618.90,396.13 619.00,395.58 619.10,395.35 619.20,393.37 619.30,396.15 619.40,399.93 619.50,391.43 619.60,393.01 619.70,391.99 619.80,381.05 619.90,387.57 620.00,403.30 620.10,394.20 620.20,390.24 620.30,395.83 620.40,396.31 620.50,390.75 620.60,396.76 620.70,397.83 620.80,393.60 620.90,388.86 621.00,396.88 621.10,391.53 621.20,390.82 621.30,392.43 621.40,390.28 621.50,395.55 621.60,394.57 621.70,392.71 621.80,393.92 621.90,389.73" fill="none" stroke="#EE0000" stroke-width="0.75" stroke-linejoin="miter"/>
<g font-family="'Liberation Sans', sans-serif" font-size="10.6" fill="#222">
<text x="151.60" y="444.6" text-anchor="middle">5000</text><text x="232.76" y="444.6" text-anchor="middle">5500</text><text x="313.92" y="444.6" text-anchor="middle">6000</text><text x="395.08" y="444.6" text-anchor="middle">6500</text><text x="476.24" y="444.6" text-anchor="middle">7000</text><text x="557.40" y="444.6" text-anchor="middle">7500</text><text x="131.2" y="434.85" text-anchor="end">1000</text><text x="131.2" y="353.54" text-anchor="end">1500</text><text x="131.2" y="272.23" text-anchor="end">2000</text><text x="131.2" y="190.91" text-anchor="end">2500</text><text x="131.2" y="109.60" text-anchor="end">3000</text>
</g>
<g font-family="'Liberation Sans', sans-serif" font-size="10.6" fill="#111">
<text x="139.6" y="148.5">Si</text><text x="166.1" y="119.1">O (D)</text><text x="192.8" y="162">O</text><text x="250.3" y="105.2">O (S)</text><text x="260.7" y="166.9">Ti (D)</text><text x="332.5" y="168">O</text><text x="320.8" y="194.2">Cl</text><text x="351.3" y="193">Ti (S)</text><text x="398.5" y="270.8">Fe (D)</text><text x="437.2" y="268.4">Ti</text><text x="453.9" y="312.8">Cl (S)</text><text x="492.7" y="294.6">Fe (S)</text><text x="541.2" y="351">Cl</text><text x="576.8" y="342.2">Fe</text><text transform="translate(221,166.9) rotate(-90)" x="0" y="0"><tspan fill="#999">Ti,</tspan><tspan fill="#444"> Ca (D)</tspan></text><text transform="translate(240.1,191.4) rotate(-90)" x="0" y="0">Fe (S)</text><text transform="translate(304,169.2) rotate(-90)" x="0" y="0">Ti, Ca (S)</text><text transform="translate(386.6,252.6) rotate(-90)" x="0" y="0">Ti, Ca</text><text transform="translate(526.5,340.4) rotate(-90)" x="0" y="0">Cl (S)</text>
<text x="378.5" y="467.2" text-anchor="middle">Energy (keV)</text>
<text transform="translate(86.9,254.3) rotate(-90)" text-anchor="middle">Counts per Channel</text>
<text x="481" y="101">Mid latitudes - 13.5 days</text>
</g>
<line x1="458.4" y1="97.6" x2="475.6" y2="97.6" stroke="#E88080" stroke-width="1.2"/>
</g>
</svg>
</body></html>
